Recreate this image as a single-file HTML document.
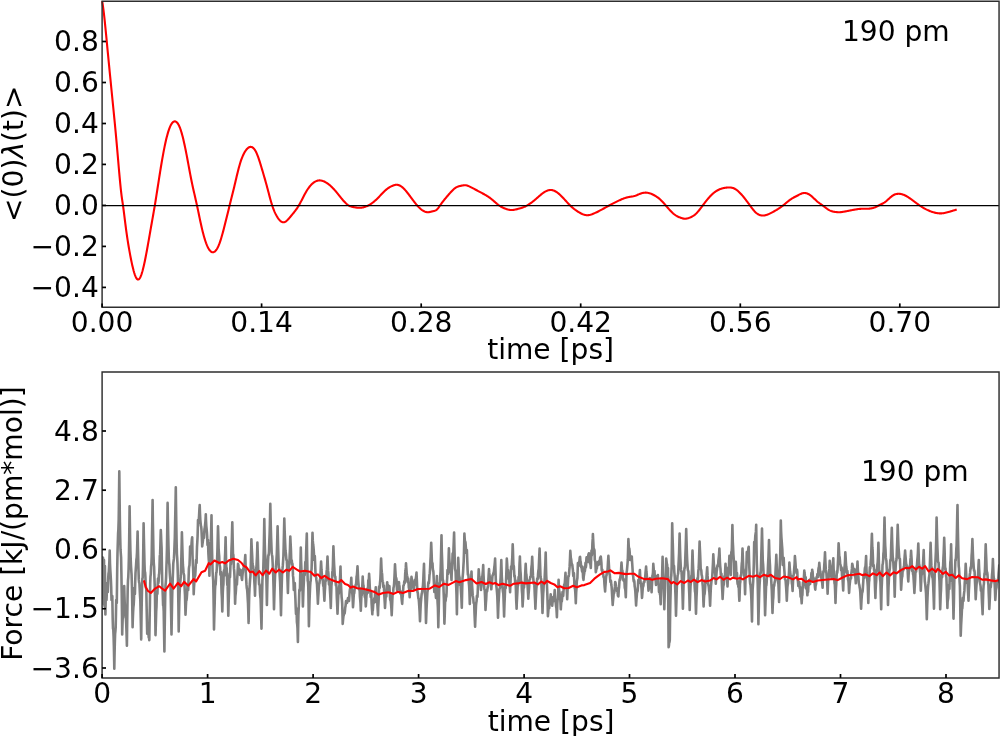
<!DOCTYPE html>
<html lang="en"><head><meta charset="utf-8"><title>190 pm</title>
<style>html,body{margin:0;padding:0;background:#fff;}body{width:1000px;height:736px;overflow:hidden;}svg{display:block;}text{font-family:"DejaVu Sans","Liberation Sans",sans-serif;font-size:28.1px;fill:#000;}.c{text-anchor:middle;}.e{text-anchor:end;}</style></head><body>
<svg width="1000" height="736" viewBox="0 0 1000 736">
<rect width="1000" height="736" fill="#fff"/>
<g>
<path d="M102.20,1.20 L102.70,4.49 L103.20,8.00 L103.70,11.89 L104.20,16.15 L104.70,20.71 L105.20,25.53 L105.70,30.53 L106.20,35.67 L106.70,40.87 L107.20,46.08 L107.70,51.28 L108.20,56.44 L108.70,61.59 L109.20,66.71 L109.70,71.81 L110.20,76.88 L110.70,81.94 L111.20,86.98 L111.70,92.00 L112.20,97.00 L112.70,101.99 L113.20,106.98 L113.70,112.01 L114.20,117.07 L114.70,122.19 L115.20,127.39 L115.70,132.68 L116.20,138.08 L116.70,143.61 L117.20,149.29 L117.70,155.09 L118.20,160.93 L118.70,166.74 L119.20,172.44 L119.70,177.95 L120.20,183.20 L120.70,188.09 L121.20,192.56 L121.70,196.52 L122.20,200.06 L122.70,203.44 L123.20,206.93 L123.70,210.65 L124.20,214.56 L124.70,218.55 L125.20,222.56 L125.70,226.50 L126.20,230.30 L126.70,233.91 L127.20,237.34 L127.70,240.62 L128.20,243.75 L128.70,246.75 L129.20,249.63 L129.70,252.41 L130.20,255.11 L130.70,257.71 L131.20,260.22 L131.70,262.62 L132.20,264.91 L132.70,267.07 L133.20,269.10 L133.70,270.99 L134.20,272.72 L134.70,274.29 L135.20,275.68 L135.70,276.88 L136.20,277.87 L136.70,278.65 L137.20,279.19 L137.70,279.50 L138.20,279.56 L138.70,279.37 L139.20,278.95 L139.70,278.30 L140.20,277.44 L140.70,276.38 L141.20,275.12 L141.70,273.67 L142.20,272.04 L142.70,270.26 L143.20,268.31 L143.70,266.23 L144.20,264.01 L144.70,261.68 L145.20,259.24 L145.70,256.72 L146.20,254.11 L146.70,251.44 L147.20,248.72 L147.70,245.95 L148.20,243.14 L148.70,240.31 L149.20,237.46 L149.70,234.60 L150.20,231.74 L150.70,228.88 L151.20,226.03 L151.70,223.21 L152.20,220.40 L152.70,217.60 L153.20,214.78 L153.70,211.93 L154.20,209.04 L154.70,206.10 L155.20,203.08 L155.70,200.00 L156.20,196.87 L156.70,193.69 L157.20,190.49 L157.70,187.27 L158.20,184.05 L158.70,180.83 L159.20,177.64 L159.70,174.47 L160.20,171.35 L160.70,168.27 L161.20,165.25 L161.70,162.28 L162.20,159.39 L162.70,156.56 L163.20,153.82 L163.70,151.16 L164.20,148.59 L164.70,146.13 L165.20,143.76 L165.70,141.51 L166.20,139.36 L166.70,137.33 L167.20,135.41 L167.70,133.60 L168.20,131.92 L168.70,130.35 L169.20,128.91 L169.70,127.60 L170.20,126.41 L170.70,125.36 L171.20,124.43 L171.70,123.62 L172.20,122.94 L172.70,122.38 L173.20,121.95 L173.70,121.63 L174.20,121.44 L174.70,121.36 L175.20,121.40 L175.70,121.56 L176.20,121.83 L176.70,122.23 L177.20,122.75 L177.70,123.39 L178.20,124.15 L178.70,125.04 L179.20,126.06 L179.70,127.21 L180.20,128.49 L180.70,129.90 L181.20,131.45 L181.70,133.12 L182.20,134.92 L182.70,136.84 L183.20,138.86 L183.70,140.98 L184.20,143.20 L184.70,145.50 L185.20,147.88 L185.70,150.33 L186.20,152.85 L186.70,155.42 L187.20,158.04 L187.70,160.70 L188.20,163.38 L188.70,166.07 L189.20,168.76 L189.70,171.44 L190.20,174.08 L190.70,176.68 L191.20,179.23 L191.70,181.71 L192.20,184.12 L192.70,186.45 L193.20,188.72 L193.70,190.95 L194.20,193.14 L194.70,195.32 L195.20,197.50 L195.70,199.68 L196.20,201.89 L196.70,204.13 L197.20,206.42 L197.70,208.77 L198.20,211.15 L198.70,213.55 L199.20,215.96 L199.70,218.35 L200.20,220.72 L200.70,223.04 L201.20,225.31 L201.70,227.51 L202.20,229.62 L202.70,231.65 L203.20,233.60 L203.70,235.45 L204.20,237.22 L204.70,238.90 L205.20,240.48 L205.70,241.97 L206.20,243.36 L206.70,244.65 L207.20,245.84 L207.70,246.93 L208.20,247.91 L208.70,248.80 L209.20,249.58 L209.70,250.26 L210.20,250.85 L210.70,251.33 L211.20,251.71 L211.70,251.99 L212.20,252.17 L212.70,252.25 L213.20,252.24 L213.70,252.12 L214.20,251.90 L214.70,251.58 L215.20,251.16 L215.70,250.64 L216.20,250.02 L216.70,249.30 L217.20,248.47 L217.70,247.55 L218.20,246.52 L218.70,245.39 L219.20,244.16 L219.70,242.82 L220.20,241.39 L220.70,239.86 L221.20,238.25 L221.70,236.56 L222.20,234.80 L222.70,232.99 L223.20,231.12 L223.70,229.21 L224.20,227.27 L224.70,225.30 L225.20,223.31 L225.70,221.31 L226.20,219.29 L226.70,217.27 L227.20,215.24 L227.70,213.21 L228.20,211.18 L228.70,209.14 L229.20,207.12 L229.70,205.10 L230.20,203.08 L230.70,201.07 L231.20,199.07 L231.70,197.06 L232.20,195.05 L232.70,193.03 L233.20,190.99 L233.70,188.95 L234.20,186.88 L234.70,184.80 L235.20,182.69 L235.70,180.58 L236.20,178.46 L236.70,176.36 L237.20,174.28 L237.70,172.23 L238.20,170.24 L238.70,168.31 L239.20,166.45 L239.70,164.68 L240.20,163.01 L240.70,161.44 L241.20,159.96 L241.70,158.58 L242.20,157.29 L242.70,156.09 L243.20,154.97 L243.70,153.94 L244.20,152.98 L244.70,152.10 L245.20,151.28 L245.70,150.54 L246.20,149.86 L246.70,149.25 L247.20,148.70 L247.70,148.22 L248.20,147.82 L248.70,147.48 L249.20,147.22 L249.70,147.03 L250.20,146.92 L250.70,146.88 L251.20,146.93 L251.70,147.05 L252.20,147.27 L252.70,147.56 L253.20,147.95 L253.70,148.43 L254.20,149.00 L254.70,149.68 L255.20,150.45 L255.70,151.32 L256.20,152.30 L256.70,153.38 L257.20,154.57 L257.70,155.84 L258.20,157.20 L258.70,158.62 L259.20,160.11 L259.70,161.66 L260.20,163.24 L260.70,164.87 L261.20,166.52 L261.70,168.19 L262.20,169.87 L262.70,171.56 L263.20,173.25 L263.70,174.96 L264.20,176.67 L264.70,178.41 L265.20,180.16 L265.70,181.93 L266.20,183.73 L266.70,185.55 L267.20,187.40 L267.70,189.28 L268.20,191.18 L268.70,193.09 L269.20,194.98 L269.70,196.86 L270.20,198.71 L270.70,200.51 L271.20,202.25 L271.70,203.92 L272.20,205.50 L272.70,206.99 L273.20,208.38 L273.70,209.69 L274.20,210.92 L274.70,212.07 L275.20,213.14 L275.70,214.15 L276.20,215.10 L276.70,215.99 L277.20,216.83 L277.70,217.62 L278.20,218.35 L278.70,219.04 L279.20,219.66 L279.70,220.23 L280.20,220.73 L280.70,221.17 L281.20,221.54 L281.70,221.84 L282.20,222.07 L282.70,222.23 L283.20,222.31 L283.70,222.31 L284.20,222.23 L284.70,222.07 L285.20,221.84 L285.70,221.55 L286.20,221.20 L286.70,220.79 L287.20,220.34 L287.70,219.84 L288.20,219.31 L288.70,218.76 L289.20,218.18 L289.70,217.58 L290.20,216.98 L290.70,216.37 L291.20,215.76 L291.70,215.15 L292.20,214.55 L292.70,213.95 L293.20,213.34 L293.70,212.73 L294.20,212.10 L294.70,211.47 L295.20,210.82 L295.70,210.16 L296.20,209.47 L296.70,208.77 L297.20,208.04 L297.70,207.28 L298.20,206.49 L298.70,205.67 L299.20,204.81 L299.70,203.92 L300.20,203.01 L300.70,202.07 L301.20,201.12 L301.70,200.15 L302.20,199.17 L302.70,198.19 L303.20,197.22 L303.70,196.25 L304.20,195.29 L304.70,194.34 L305.20,193.42 L305.70,192.52 L306.20,191.66 L306.70,190.82 L307.20,190.02 L307.70,189.26 L308.20,188.52 L308.70,187.82 L309.20,187.15 L309.70,186.52 L310.20,185.91 L310.70,185.34 L311.20,184.80 L311.70,184.29 L312.20,183.81 L312.70,183.37 L313.20,182.95 L313.70,182.57 L314.20,182.22 L314.70,181.89 L315.20,181.60 L315.70,181.35 L316.20,181.12 L316.70,180.92 L317.20,180.76 L317.70,180.62 L318.20,180.52 L318.70,180.45 L319.20,180.41 L319.70,180.40 L320.20,180.42 L320.70,180.47 L321.20,180.55 L321.70,180.66 L322.20,180.79 L322.70,180.94 L323.20,181.12 L323.70,181.32 L324.20,181.55 L324.70,181.79 L325.20,182.05 L325.70,182.33 L326.20,182.62 L326.70,182.93 L327.20,183.25 L327.70,183.59 L328.20,183.95 L328.70,184.32 L329.20,184.71 L329.70,185.11 L330.20,185.53 L330.70,185.97 L331.20,186.43 L331.70,186.90 L332.20,187.38 L332.70,187.89 L333.20,188.41 L333.70,188.95 L334.20,189.50 L334.70,190.07 L335.20,190.65 L335.70,191.24 L336.20,191.85 L336.70,192.45 L337.20,193.07 L337.70,193.69 L338.20,194.32 L338.70,194.94 L339.20,195.57 L339.70,196.20 L340.20,196.83 L340.70,197.45 L341.20,198.07 L341.70,198.68 L342.20,199.28 L342.70,199.87 L343.20,200.45 L343.70,201.01 L344.20,201.56 L344.70,202.09 L345.20,202.60 L345.70,203.09 L346.20,203.55 L346.70,203.99 L347.20,204.40 L347.70,204.78 L348.20,205.13 L348.70,205.44 L349.20,205.72 L349.70,205.97 L350.20,206.19 L350.70,206.38 L351.20,206.55 L351.70,206.69 L352.20,206.82 L352.70,206.94 L353.20,207.05 L353.70,207.14 L354.20,207.24 L354.70,207.33 L355.20,207.41 L355.70,207.49 L356.20,207.57 L356.70,207.63 L357.20,207.69 L357.70,207.74 L358.20,207.78 L358.70,207.80 L359.20,207.81 L359.70,207.81 L360.20,207.79 L360.70,207.76 L361.20,207.70 L361.70,207.64 L362.20,207.56 L362.70,207.46 L363.20,207.35 L363.70,207.23 L364.20,207.09 L364.70,206.94 L365.20,206.77 L365.70,206.60 L366.20,206.40 L366.70,206.20 L367.20,205.98 L367.70,205.75 L368.20,205.50 L368.70,205.24 L369.20,204.96 L369.70,204.67 L370.20,204.36 L370.70,204.04 L371.20,203.71 L371.70,203.36 L372.20,203.00 L372.70,202.63 L373.20,202.24 L373.70,201.84 L374.20,201.43 L374.70,201.01 L375.20,200.57 L375.70,200.12 L376.20,199.66 L376.70,199.18 L377.20,198.70 L377.70,198.20 L378.20,197.70 L378.70,197.18 L379.20,196.66 L379.70,196.14 L380.20,195.61 L380.70,195.08 L381.20,194.55 L381.70,194.02 L382.20,193.50 L382.70,192.98 L383.20,192.47 L383.70,191.97 L384.20,191.48 L384.70,191.00 L385.20,190.53 L385.70,190.08 L386.20,189.65 L386.70,189.24 L387.20,188.85 L387.70,188.47 L388.20,188.12 L388.70,187.79 L389.20,187.47 L389.70,187.18 L390.20,186.90 L390.70,186.63 L391.20,186.38 L391.70,186.14 L392.20,185.91 L392.70,185.70 L393.20,185.50 L393.70,185.32 L394.20,185.16 L394.70,185.02 L395.20,184.91 L395.70,184.83 L396.20,184.78 L396.70,184.77 L397.20,184.80 L397.70,184.87 L398.20,184.98 L398.70,185.12 L399.20,185.31 L399.70,185.53 L400.20,185.79 L400.70,186.08 L401.20,186.41 L401.70,186.77 L402.20,187.16 L402.70,187.58 L403.20,188.04 L403.70,188.51 L404.20,189.02 L404.70,189.55 L405.20,190.10 L405.70,190.67 L406.20,191.26 L406.70,191.86 L407.20,192.48 L407.70,193.11 L408.20,193.76 L408.70,194.41 L409.20,195.08 L409.70,195.75 L410.20,196.42 L410.70,197.10 L411.20,197.78 L411.70,198.46 L412.20,199.13 L412.70,199.81 L413.20,200.48 L413.70,201.15 L414.20,201.80 L414.70,202.45 L415.20,203.09 L415.70,203.71 L416.20,204.33 L416.70,204.92 L417.20,205.50 L417.70,206.06 L418.20,206.60 L418.70,207.12 L419.20,207.62 L419.70,208.10 L420.20,208.56 L420.70,208.99 L421.20,209.40 L421.70,209.78 L422.20,210.14 L422.70,210.47 L423.20,210.78 L423.70,211.06 L424.20,211.31 L424.70,211.53 L425.20,211.72 L425.70,211.88 L426.20,212.01 L426.70,212.10 L427.20,212.17 L427.70,212.20 L428.20,212.19 L428.70,212.16 L429.20,212.09 L429.70,212.01 L430.20,211.90 L430.70,211.78 L431.20,211.66 L431.70,211.52 L432.20,211.39 L432.70,211.27 L433.20,211.16 L433.70,211.05 L434.20,210.93 L434.70,210.79 L435.20,210.62 L435.70,210.39 L436.20,210.08 L436.70,209.70 L437.20,209.22 L437.70,208.66 L438.20,208.03 L438.70,207.36 L439.20,206.65 L439.70,205.93 L440.20,205.21 L440.70,204.51 L441.20,203.82 L441.70,203.14 L442.20,202.47 L442.70,201.82 L443.20,201.17 L443.70,200.53 L444.20,199.90 L444.70,199.28 L445.20,198.67 L445.70,198.07 L446.20,197.47 L446.70,196.87 L447.20,196.29 L447.70,195.70 L448.20,195.12 L448.70,194.55 L449.20,193.97 L449.70,193.40 L450.20,192.83 L450.70,192.27 L451.20,191.73 L451.70,191.19 L452.20,190.67 L452.70,190.17 L453.20,189.69 L453.70,189.23 L454.20,188.80 L454.70,188.39 L455.20,188.02 L455.70,187.67 L456.20,187.37 L456.70,187.10 L457.20,186.86 L457.70,186.66 L458.20,186.49 L458.70,186.34 L459.20,186.21 L459.70,186.09 L460.20,185.97 L460.70,185.87 L461.20,185.76 L461.70,185.64 L462.20,185.53 L462.70,185.43 L463.20,185.34 L463.70,185.27 L464.20,185.22 L464.70,185.19 L465.20,185.20 L465.70,185.24 L466.20,185.32 L466.70,185.43 L467.20,185.57 L467.70,185.73 L468.20,185.92 L468.70,186.12 L469.20,186.34 L469.70,186.58 L470.20,186.83 L470.70,187.08 L471.20,187.34 L471.70,187.61 L472.20,187.87 L472.70,188.14 L473.20,188.40 L473.70,188.67 L474.20,188.93 L474.70,189.20 L475.20,189.47 L475.70,189.74 L476.20,190.01 L476.70,190.27 L477.20,190.54 L477.70,190.81 L478.20,191.08 L478.70,191.34 L479.20,191.61 L479.70,191.88 L480.20,192.14 L480.70,192.41 L481.20,192.67 L481.70,192.93 L482.20,193.20 L482.70,193.47 L483.20,193.73 L483.70,194.01 L484.20,194.28 L484.70,194.56 L485.20,194.84 L485.70,195.13 L486.20,195.43 L486.70,195.73 L487.20,196.04 L487.70,196.36 L488.20,196.68 L488.70,197.02 L489.20,197.36 L489.70,197.72 L490.20,198.09 L490.70,198.47 L491.20,198.86 L491.70,199.26 L492.20,199.68 L492.70,200.10 L493.20,200.53 L493.70,200.97 L494.20,201.40 L494.70,201.84 L495.20,202.28 L495.70,202.71 L496.20,203.14 L496.70,203.56 L497.20,203.98 L497.70,204.38 L498.20,204.77 L498.70,205.14 L499.20,205.50 L499.70,205.84 L500.20,206.16 L500.70,206.47 L501.20,206.76 L501.70,207.03 L502.20,207.29 L502.70,207.54 L503.20,207.78 L503.70,208.00 L504.20,208.21 L504.70,208.41 L505.20,208.61 L505.70,208.79 L506.20,208.97 L506.70,209.14 L507.20,209.30 L507.70,209.45 L508.20,209.59 L508.70,209.71 L509.20,209.82 L509.70,209.90 L510.20,209.97 L510.70,210.02 L511.20,210.04 L511.70,210.04 L512.20,210.02 L512.70,209.98 L513.20,209.93 L513.70,209.86 L514.20,209.78 L514.70,209.69 L515.20,209.59 L515.70,209.48 L516.20,209.36 L516.70,209.24 L517.20,209.11 L517.70,208.98 L518.20,208.85 L518.70,208.72 L519.20,208.58 L519.70,208.45 L520.20,208.31 L520.70,208.16 L521.20,208.01 L521.70,207.85 L522.20,207.69 L522.70,207.51 L523.20,207.32 L523.70,207.13 L524.20,206.91 L524.70,206.69 L525.20,206.45 L525.70,206.20 L526.20,205.94 L526.70,205.67 L527.20,205.39 L527.70,205.09 L528.20,204.79 L528.70,204.48 L529.20,204.16 L529.70,203.83 L530.20,203.49 L530.70,203.14 L531.20,202.78 L531.70,202.41 L532.20,202.04 L532.70,201.65 L533.20,201.26 L533.70,200.86 L534.20,200.45 L534.70,200.03 L535.20,199.61 L535.70,199.18 L536.20,198.74 L536.70,198.31 L537.20,197.87 L537.70,197.42 L538.20,196.98 L538.70,196.55 L539.20,196.11 L539.70,195.68 L540.20,195.26 L540.70,194.84 L541.20,194.43 L541.70,194.03 L542.20,193.64 L542.70,193.27 L543.20,192.91 L543.70,192.56 L544.20,192.23 L544.70,191.92 L545.20,191.63 L545.70,191.36 L546.20,191.11 L546.70,190.88 L547.20,190.67 L547.70,190.49 L548.20,190.34 L548.70,190.21 L549.20,190.11 L549.70,190.04 L550.20,190.00 L550.70,189.99 L551.20,190.01 L551.70,190.07 L552.20,190.15 L552.70,190.26 L553.20,190.41 L553.70,190.57 L554.20,190.77 L554.70,190.99 L555.20,191.24 L555.70,191.52 L556.20,191.81 L556.70,192.14 L557.20,192.48 L557.70,192.85 L558.20,193.24 L558.70,193.65 L559.20,194.08 L559.70,194.53 L560.20,194.99 L560.70,195.47 L561.20,195.96 L561.70,196.46 L562.20,196.98 L562.70,197.50 L563.20,198.03 L563.70,198.57 L564.20,199.11 L564.70,199.65 L565.20,200.20 L565.70,200.75 L566.20,201.30 L566.70,201.85 L567.20,202.39 L567.70,202.93 L568.20,203.46 L568.70,203.98 L569.20,204.50 L569.70,205.01 L570.20,205.50 L570.70,205.98 L571.20,206.45 L571.70,206.91 L572.20,207.35 L572.70,207.78 L573.20,208.20 L573.70,208.61 L574.20,209.01 L574.70,209.39 L575.20,209.77 L575.70,210.13 L576.20,210.49 L576.70,210.83 L577.20,211.17 L577.70,211.50 L578.20,211.81 L578.70,212.12 L579.20,212.42 L579.70,212.71 L580.20,212.99 L580.70,213.26 L581.20,213.51 L581.70,213.75 L582.20,213.98 L582.70,214.19 L583.20,214.38 L583.70,214.56 L584.20,214.71 L584.70,214.85 L585.20,214.96 L585.70,215.06 L586.20,215.13 L586.70,215.18 L587.20,215.20 L587.70,215.20 L588.20,215.17 L588.70,215.11 L589.20,215.04 L589.70,214.94 L590.20,214.83 L590.70,214.69 L591.20,214.54 L591.70,214.37 L592.20,214.19 L592.70,214.00 L593.20,213.80 L593.70,213.59 L594.20,213.37 L594.70,213.14 L595.20,212.91 L595.70,212.67 L596.20,212.43 L596.70,212.19 L597.20,211.94 L597.70,211.69 L598.20,211.44 L598.70,211.19 L599.20,210.93 L599.70,210.67 L600.20,210.41 L600.70,210.14 L601.20,209.87 L601.70,209.61 L602.20,209.34 L602.70,209.06 L603.20,208.79 L603.70,208.52 L604.20,208.25 L604.70,207.97 L605.20,207.70 L605.70,207.42 L606.20,207.14 L606.70,206.87 L607.20,206.59 L607.70,206.32 L608.20,206.05 L608.70,205.77 L609.20,205.50 L609.70,205.23 L610.20,204.96 L610.70,204.69 L611.20,204.42 L611.70,204.16 L612.20,203.89 L612.70,203.63 L613.20,203.37 L613.70,203.11 L614.20,202.86 L614.70,202.60 L615.20,202.35 L615.70,202.10 L616.20,201.85 L616.70,201.60 L617.20,201.36 L617.70,201.12 L618.20,200.88 L618.70,200.64 L619.20,200.41 L619.70,200.18 L620.20,199.95 L620.70,199.72 L621.20,199.50 L621.70,199.29 L622.20,199.08 L622.70,198.88 L623.20,198.68 L623.70,198.49 L624.20,198.30 L624.70,198.13 L625.20,197.96 L625.70,197.80 L626.20,197.65 L626.70,197.51 L627.20,197.38 L627.70,197.27 L628.20,197.16 L628.70,197.06 L629.20,196.97 L629.70,196.89 L630.20,196.81 L630.70,196.74 L631.20,196.66 L631.70,196.58 L632.20,196.50 L632.70,196.41 L633.20,196.32 L633.70,196.21 L634.20,196.09 L634.70,195.95 L635.20,195.80 L635.70,195.63 L636.20,195.44 L636.70,195.24 L637.20,195.02 L637.70,194.80 L638.20,194.57 L638.70,194.35 L639.20,194.13 L639.70,193.92 L640.20,193.72 L640.70,193.54 L641.20,193.38 L641.70,193.23 L642.20,193.09 L642.70,192.98 L643.20,192.88 L643.70,192.80 L644.20,192.73 L644.70,192.69 L645.20,192.66 L645.70,192.66 L646.20,192.67 L646.70,192.70 L647.20,192.75 L647.70,192.82 L648.20,192.91 L648.70,193.02 L649.20,193.15 L649.70,193.29 L650.20,193.45 L650.70,193.63 L651.20,193.82 L651.70,194.02 L652.20,194.24 L652.70,194.47 L653.20,194.72 L653.70,194.98 L654.20,195.25 L654.70,195.53 L655.20,195.82 L655.70,196.12 L656.20,196.43 L656.70,196.76 L657.20,197.09 L657.70,197.45 L658.20,197.81 L658.70,198.20 L659.20,198.60 L659.70,199.02 L660.20,199.46 L660.70,199.91 L661.20,200.39 L661.70,200.90 L662.20,201.41 L662.70,201.95 L663.20,202.50 L663.70,203.06 L664.20,203.63 L664.70,204.21 L665.20,204.80 L665.70,205.38 L666.20,205.97 L666.70,206.56 L667.20,207.14 L667.70,207.72 L668.20,208.29 L668.70,208.86 L669.20,209.42 L669.70,209.97 L670.20,210.51 L670.70,211.04 L671.20,211.55 L671.70,212.05 L672.20,212.53 L672.70,213.00 L673.20,213.44 L673.70,213.87 L674.20,214.27 L674.70,214.65 L675.20,215.00 L675.70,215.34 L676.20,215.65 L676.70,215.94 L677.20,216.22 L677.70,216.48 L678.20,216.72 L678.70,216.95 L679.20,217.17 L679.70,217.38 L680.20,217.58 L680.70,217.77 L681.20,217.95 L681.70,218.11 L682.20,218.26 L682.70,218.40 L683.20,218.51 L683.70,218.60 L684.20,218.66 L684.70,218.69 L685.20,218.70 L685.70,218.67 L686.20,218.62 L686.70,218.54 L687.20,218.44 L687.70,218.31 L688.20,218.16 L688.70,218.00 L689.20,217.82 L689.70,217.62 L690.20,217.42 L690.70,217.20 L691.20,216.97 L691.70,216.72 L692.20,216.46 L692.70,216.17 L693.20,215.87 L693.70,215.55 L694.20,215.20 L694.70,214.82 L695.20,214.41 L695.70,213.98 L696.20,213.51 L696.70,213.01 L697.20,212.48 L697.70,211.92 L698.20,211.34 L698.70,210.74 L699.20,210.12 L699.70,209.49 L700.20,208.84 L700.70,208.18 L701.20,207.51 L701.70,206.84 L702.20,206.17 L702.70,205.50 L703.20,204.83 L703.70,204.17 L704.20,203.51 L704.70,202.86 L705.20,202.21 L705.70,201.58 L706.20,200.95 L706.70,200.33 L707.20,199.71 L707.70,199.11 L708.20,198.52 L708.70,197.94 L709.20,197.38 L709.70,196.82 L710.20,196.28 L710.70,195.76 L711.20,195.25 L711.70,194.75 L712.20,194.27 L712.70,193.81 L713.20,193.37 L713.70,192.95 L714.20,192.54 L714.70,192.15 L715.20,191.79 L715.70,191.44 L716.20,191.11 L716.70,190.80 L717.20,190.50 L717.70,190.23 L718.20,189.97 L718.70,189.72 L719.20,189.49 L719.70,189.28 L720.20,189.08 L720.70,188.89 L721.20,188.72 L721.70,188.56 L722.20,188.41 L722.70,188.28 L723.20,188.15 L723.70,188.04 L724.20,187.94 L724.70,187.85 L725.20,187.77 L725.70,187.70 L726.20,187.64 L726.70,187.59 L727.20,187.55 L727.70,187.52 L728.20,187.50 L728.70,187.49 L729.20,187.48 L729.70,187.49 L730.20,187.52 L730.70,187.56 L731.20,187.62 L731.70,187.70 L732.20,187.80 L732.70,187.93 L733.20,188.09 L733.70,188.28 L734.20,188.50 L734.70,188.74 L735.20,189.02 L735.70,189.33 L736.20,189.66 L736.70,190.01 L737.20,190.39 L737.70,190.80 L738.20,191.23 L738.70,191.68 L739.20,192.15 L739.70,192.64 L740.20,193.15 L740.70,193.67 L741.20,194.22 L741.70,194.77 L742.20,195.35 L742.70,195.94 L743.20,196.54 L743.70,197.15 L744.20,197.77 L744.70,198.41 L745.20,199.05 L745.70,199.70 L746.20,200.36 L746.70,201.03 L747.20,201.69 L747.70,202.37 L748.20,203.05 L748.70,203.73 L749.20,204.41 L749.70,205.09 L750.20,205.77 L750.70,206.45 L751.20,207.13 L751.70,207.79 L752.20,208.45 L752.70,209.08 L753.20,209.71 L753.70,210.31 L754.20,210.88 L754.70,211.43 L755.20,211.94 L755.70,212.43 L756.20,212.87 L756.70,213.28 L757.20,213.65 L757.70,213.98 L758.20,214.28 L758.70,214.54 L759.20,214.77 L759.70,214.97 L760.20,215.13 L760.70,215.27 L761.20,215.37 L761.70,215.45 L762.20,215.50 L762.70,215.52 L763.20,215.51 L763.70,215.49 L764.20,215.43 L764.70,215.36 L765.20,215.26 L765.70,215.15 L766.20,215.01 L766.70,214.86 L767.20,214.69 L767.70,214.50 L768.20,214.31 L768.70,214.09 L769.20,213.87 L769.70,213.64 L770.20,213.40 L770.70,213.15 L771.20,212.89 L771.70,212.63 L772.20,212.36 L772.70,212.09 L773.20,211.82 L773.70,211.54 L774.20,211.27 L774.70,210.98 L775.20,210.70 L775.70,210.41 L776.20,210.11 L776.70,209.82 L777.20,209.51 L777.70,209.20 L778.20,208.89 L778.70,208.56 L779.20,208.24 L779.70,207.90 L780.20,207.56 L780.70,207.21 L781.20,206.85 L781.70,206.49 L782.20,206.12 L782.70,205.73 L783.20,205.34 L783.70,204.94 L784.20,204.54 L784.70,204.12 L785.20,203.71 L785.70,203.29 L786.20,202.87 L786.70,202.46 L787.20,202.04 L787.70,201.63 L788.20,201.23 L788.70,200.83 L789.20,200.45 L789.70,200.07 L790.20,199.71 L790.70,199.36 L791.20,199.03 L791.70,198.71 L792.20,198.40 L792.70,198.11 L793.20,197.82 L793.70,197.54 L794.20,197.27 L794.70,197.00 L795.20,196.74 L795.70,196.48 L796.20,196.23 L796.70,195.97 L797.20,195.71 L797.70,195.46 L798.20,195.20 L798.70,194.93 L799.20,194.67 L799.70,194.41 L800.20,194.17 L800.70,193.93 L801.20,193.72 L801.70,193.53 L802.20,193.36 L802.70,193.22 L803.20,193.12 L803.70,193.05 L804.20,193.02 L804.70,193.02 L805.20,193.05 L805.70,193.12 L806.20,193.22 L806.70,193.35 L807.20,193.51 L807.70,193.71 L808.20,193.93 L808.70,194.19 L809.20,194.48 L809.70,194.80 L810.20,195.14 L810.70,195.52 L811.20,195.92 L811.70,196.34 L812.20,196.78 L812.70,197.23 L813.20,197.70 L813.70,198.17 L814.20,198.65 L814.70,199.13 L815.20,199.61 L815.70,200.09 L816.20,200.55 L816.70,201.01 L817.20,201.45 L817.70,201.87 L818.20,202.27 L818.70,202.65 L819.20,203.02 L819.70,203.39 L820.20,203.74 L820.70,204.09 L821.20,204.44 L821.70,204.79 L822.20,205.14 L822.70,205.50 L823.20,205.87 L823.70,206.25 L824.20,206.63 L824.70,207.01 L825.20,207.40 L825.70,207.78 L826.20,208.16 L826.70,208.52 L827.20,208.88 L827.70,209.22 L828.20,209.55 L828.70,209.85 L829.20,210.14 L829.70,210.40 L830.20,210.64 L830.70,210.85 L831.20,211.04 L831.70,211.21 L832.20,211.36 L832.70,211.50 L833.20,211.62 L833.70,211.72 L834.20,211.81 L834.70,211.89 L835.20,211.96 L835.70,212.02 L836.20,212.08 L836.70,212.13 L837.20,212.17 L837.70,212.20 L838.20,212.22 L838.70,212.23 L839.20,212.23 L839.70,212.21 L840.20,212.19 L840.70,212.15 L841.20,212.10 L841.70,212.05 L842.20,211.98 L842.70,211.91 L843.20,211.83 L843.70,211.74 L844.20,211.65 L844.70,211.56 L845.20,211.46 L845.70,211.36 L846.20,211.27 L846.70,211.17 L847.20,211.07 L847.70,210.96 L848.20,210.86 L848.70,210.76 L849.20,210.66 L849.70,210.56 L850.20,210.46 L850.70,210.35 L851.20,210.25 L851.70,210.16 L852.20,210.06 L852.70,209.96 L853.20,209.87 L853.70,209.77 L854.20,209.68 L854.70,209.60 L855.20,209.51 L855.70,209.43 L856.20,209.35 L856.70,209.27 L857.20,209.20 L857.70,209.14 L858.20,209.07 L858.70,209.02 L859.20,208.96 L859.70,208.92 L860.20,208.88 L860.70,208.84 L861.20,208.81 L861.70,208.79 L862.20,208.78 L862.70,208.77 L863.20,208.76 L863.70,208.76 L864.20,208.76 L864.70,208.76 L865.20,208.76 L865.70,208.76 L866.20,208.76 L866.70,208.75 L867.20,208.74 L867.70,208.73 L868.20,208.71 L868.70,208.68 L869.20,208.64 L869.70,208.60 L870.20,208.54 L870.70,208.47 L871.20,208.39 L871.70,208.30 L872.20,208.19 L872.70,208.07 L873.20,207.93 L873.70,207.78 L874.20,207.61 L874.70,207.42 L875.20,207.22 L875.70,207.00 L876.20,206.76 L876.70,206.52 L877.20,206.26 L877.70,206.01 L878.20,205.75 L878.70,205.50 L879.20,205.25 L879.70,205.01 L880.20,204.77 L880.70,204.52 L881.20,204.28 L881.70,204.03 L882.20,203.77 L882.70,203.50 L883.20,203.22 L883.70,202.92 L884.20,202.61 L884.70,202.28 L885.20,201.92 L885.70,201.55 L886.20,201.15 L886.70,200.73 L887.20,200.29 L887.70,199.84 L888.20,199.39 L888.70,198.93 L889.20,198.47 L889.70,198.01 L890.20,197.57 L890.70,197.13 L891.20,196.71 L891.70,196.32 L892.20,195.94 L892.70,195.59 L893.20,195.28 L893.70,195.00 L894.20,194.75 L894.70,194.53 L895.20,194.34 L895.70,194.18 L896.20,194.06 L896.70,193.95 L897.20,193.88 L897.70,193.83 L898.20,193.80 L898.70,193.79 L899.20,193.81 L899.70,193.85 L900.20,193.90 L900.70,193.98 L901.20,194.08 L901.70,194.19 L902.20,194.33 L902.70,194.48 L903.20,194.65 L903.70,194.84 L904.20,195.04 L904.70,195.26 L905.20,195.50 L905.70,195.75 L906.20,196.01 L906.70,196.29 L907.20,196.58 L907.70,196.88 L908.20,197.19 L908.70,197.51 L909.20,197.85 L909.70,198.19 L910.20,198.53 L910.70,198.89 L911.20,199.25 L911.70,199.61 L912.20,199.98 L912.70,200.35 L913.20,200.72 L913.70,201.10 L914.20,201.47 L914.70,201.85 L915.20,202.23 L915.70,202.60 L916.20,202.98 L916.70,203.35 L917.20,203.72 L917.70,204.09 L918.20,204.45 L918.70,204.80 L919.20,205.16 L919.70,205.50 L920.20,205.84 L920.70,206.17 L921.20,206.49 L921.70,206.81 L922.20,207.12 L922.70,207.43 L923.20,207.72 L923.70,208.02 L924.20,208.30 L924.70,208.58 L925.20,208.85 L925.70,209.11 L926.20,209.37 L926.70,209.61 L927.20,209.86 L927.70,210.09 L928.20,210.32 L928.70,210.54 L929.20,210.76 L929.70,210.97 L930.20,211.17 L930.70,211.36 L931.20,211.55 L931.70,211.72 L932.20,211.89 L932.70,212.06 L933.20,212.21 L933.70,212.36 L934.20,212.50 L934.70,212.63 L935.20,212.75 L935.70,212.86 L936.20,212.96 L936.70,213.06 L937.20,213.14 L937.70,213.22 L938.20,213.28 L938.70,213.33 L939.20,213.37 L939.70,213.39 L940.20,213.40 L940.70,213.40 L941.20,213.38 L941.70,213.35 L942.20,213.31 L942.70,213.26 L943.20,213.19 L943.70,213.12 L944.20,213.03 L944.70,212.93 L945.20,212.83 L945.70,212.72 L946.20,212.60 L946.70,212.48 L947.20,212.35 L947.70,212.22 L948.20,212.08 L948.70,211.94 L949.20,211.80 L949.70,211.66 L950.20,211.51 L950.70,211.37 L951.20,211.22 L951.70,211.07 L952.20,210.91 L952.70,210.76 L953.20,210.60 L953.70,210.45 L954.20,210.29 L954.70,210.13 L955.20,209.98 L955.70,209.82 L956.20,209.66 L956.70,209.50" fill="none" stroke="#ff0000" stroke-width="2.1" stroke-linejoin="round" stroke-linecap="butt"/>
<line x1="102.1" y1="205.6" x2="999.05" y2="205.6" stroke="#000" stroke-width="1.2"/>
<path d="M102.1,1.3 H999.05 M102.1,307.3 H999.05 M102.1,1.3 V307.3 M999.05,1.3 V307.3" fill="none" stroke="#2e2e2e" stroke-width="1.45" stroke-linecap="square"/>
<line x1="102.1" y1="41.5" x2="106.0" y2="41.5" stroke="#000" stroke-width="1.7"/>
<text class="e" x="98.8" y="51.2">0.8</text>
<line x1="102.1" y1="82.5" x2="106.0" y2="82.5" stroke="#000" stroke-width="1.7"/>
<text class="e" x="98.8" y="92.2">0.6</text>
<line x1="102.1" y1="123.5" x2="106.0" y2="123.5" stroke="#000" stroke-width="1.7"/>
<text class="e" x="98.8" y="133.2">0.4</text>
<line x1="102.1" y1="164.4" x2="106.0" y2="164.4" stroke="#000" stroke-width="1.7"/>
<text class="e" x="98.8" y="174.1">0.2</text>
<line x1="102.1" y1="205.4" x2="106.0" y2="205.4" stroke="#000" stroke-width="1.7"/>
<text class="e" x="98.8" y="215.1">0.0</text>
<line x1="102.1" y1="246.4" x2="106.0" y2="246.4" stroke="#000" stroke-width="1.7"/>
<text class="e" x="98.8" y="256.1">−0.2</text>
<line x1="102.1" y1="287.4" x2="106.0" y2="287.4" stroke="#000" stroke-width="1.7"/>
<text class="e" x="98.8" y="297.1">−0.4</text>
<line x1="102.1" y1="307.3" x2="102.1" y2="303.40000000000003" stroke="#000" stroke-width="1.7"/>
<text class="c" x="102.1" y="331.8">0.00</text>
<line x1="261.6" y1="307.3" x2="261.6" y2="303.40000000000003" stroke="#000" stroke-width="1.7"/>
<text class="c" x="261.6" y="331.8">0.14</text>
<line x1="421.2" y1="307.3" x2="421.2" y2="303.40000000000003" stroke="#000" stroke-width="1.7"/>
<text class="c" x="421.2" y="331.8">0.28</text>
<line x1="580.7" y1="307.3" x2="580.7" y2="303.40000000000003" stroke="#000" stroke-width="1.7"/>
<text class="c" x="580.7" y="331.8">0.42</text>
<line x1="740.3" y1="307.3" x2="740.3" y2="303.40000000000003" stroke="#000" stroke-width="1.7"/>
<text class="c" x="740.3" y="331.8">0.56</text>
<line x1="899.8" y1="307.3" x2="899.8" y2="303.40000000000003" stroke="#000" stroke-width="1.7"/>
<text class="c" x="899.8" y="331.8">0.70</text>
<text class="c" x="550.6" y="359.3">time [ps]</text>
<text class="c" transform="translate(23.0,153.7) rotate(-90)">&lt;(0)<tspan font-style="oblique">λ</tspan>(t)&gt;</text>
<text x="841.9" y="41.3">190 pm</text>
</g>
<g>
<clipPath id="c2"><rect x="102.1" y="372.0" width="896.9499999999999" height="305.9"/></clipPath>
<g clip-path="url(#c2)">
<path d="M102.2,556.0 L102.5,580.9 L102.7,598.0 L102.8,588.2 L103.1,558.0 L103.4,585.2 L103.6,604.0 L103.7,592.9 L104.0,560.0 L104.0,560.0 L104.3,587.6 L104.5,606.0 L104.6,595.9 L104.9,566.0 L104.9,566.0 L105.2,594.9 L105.4,614.5 L105.5,609.6 L105.8,595.2 L106.0,585.0 L106.1,587.9 L106.4,596.8 L106.5,600.0 L106.7,595.4 L107.0,588.3 L107.2,583.0 L107.3,584.3 L107.6,588.8 L107.8,592.0 L107.9,588.5 L108.2,578.9 L108.5,573.5 L108.8,572.0 L109.1,566.5 L109.4,560.2 L109.7,550.5 L109.7,550.5 L110.0,563.6 L110.3,569.8 L110.6,574.7 L110.9,580.0 L111.2,587.2 L111.5,600.0 L111.5,600.0 L111.8,598.9 L112.1,596.6 L112.3,596.0 L112.4,601.8 L112.7,619.0 L113.0,628.5 L113.3,629.7 L113.6,636.8 L113.9,647.5 L114.2,662.7 L114.3,668.7 L114.5,657.1 L114.8,643.9 L115.1,634.2 L115.4,631.2 L115.7,627.2 L116.0,612.0 L116.2,600.0 L116.3,600.2 L116.6,602.0 L116.8,603.0 L116.9,594.5 L117.2,570.0 L117.5,553.6 L117.8,543.1 L118.1,533.3 L118.4,529.1 L118.7,519.4 L119.0,497.1 L119.3,471.4 L119.3,471.4 L119.6,499.1 L119.9,521.7 L120.2,537.1 L120.5,549.2 L120.8,553.7 L121.1,557.7 L121.4,573.5 L121.7,592.8 L122.0,615.7 L122.2,634.4 L122.3,630.3 L122.6,620.7 L122.9,613.4 L123.2,609.8 L123.5,607.6 L123.8,599.9 L124.1,589.9 L124.2,586.0 L124.4,593.7 L124.7,602.6 L125.0,607.6 L125.3,614.7 L125.6,617.8 L125.9,617.9 L126.2,623.6 L126.5,632.0 L126.8,642.1 L126.9,645.8 L127.1,629.1 L127.4,607.2 L127.7,589.1 L128.0,580.3 L128.3,576.8 L128.6,568.9 L128.9,556.8 L129.2,538.9 L129.5,514.6 L129.6,506.2 L129.8,519.3 L130.1,537.8 L130.4,551.0 L130.7,559.0 L131.0,566.1 L131.3,570.7 L131.6,575.2 L131.9,585.8 L132.2,601.4 L132.5,620.6 L132.6,627.2 L132.8,619.8 L133.1,612.3 L133.4,607.0 L133.7,604.6 L134.0,598.9 L134.3,588.0 L134.3,588.0 L134.6,590.8 L134.9,594.0 L134.9,594.0 L135.2,582.5 L135.5,573.1 L135.8,568.9 L136.1,564.8 L136.4,559.8 L136.7,557.6 L137.0,552.7 L137.3,542.8 L137.6,531.5 L137.6,531.5 L137.9,546.3 L138.2,558.3 L138.5,569.9 L138.8,579.4 L139.1,582.4 L139.4,583.1 L139.7,589.0 L140.0,595.2 L140.3,599.8 L140.6,611.8 L140.9,624.9 L141.2,639.4 L141.2,639.4 L141.5,615.8 L141.8,599.3 L142.1,585.5 L142.4,578.4 L142.7,577.9 L143.0,566.7 L143.3,546.3 L143.6,523.3 L143.6,523.3 L143.9,538.6 L144.2,551.0 L144.5,563.9 L144.8,571.7 L145.1,572.3 L145.4,576.8 L145.7,586.0 L146.0,587.7 L146.3,589.2 L146.6,605.6 L146.9,619.7 L147.2,633.6 L147.2,633.6 L147.5,630.9 L147.8,628.9 L147.9,628.0 L148.1,629.3 L148.4,632.5 L148.7,637.5 L149.0,636.8 L149.3,640.1 L149.3,640.1 L149.6,620.5 L149.9,603.8 L150.2,583.6 L150.5,576.5 L150.8,574.1 L151.1,566.5 L151.4,563.7 L151.7,555.7 L152.0,535.8 L152.3,519.8 L152.6,500.0 L152.6,500.0 L152.9,523.3 L153.2,538.8 L153.5,555.2 L153.8,563.7 L154.1,566.8 L154.4,577.1 L154.7,585.1 L155.0,596.3 L155.3,619.8 L155.5,635.1 L155.6,632.4 L155.9,621.9 L156.2,611.5 L156.5,606.4 L156.8,595.1 L157.1,592.6 L157.4,594.0 L157.7,585.0 L158.0,578.6 L158.3,583.2 L158.6,581.4 L158.9,575.1 L159.2,573.5 L159.5,566.8 L159.8,556.1 L160.1,554.4 L160.4,544.6 L160.7,532.8 L160.8,530.0 L161.0,534.1 L161.3,542.1 L161.6,548.0 L161.6,548.0 L161.9,566.1 L162.2,581.7 L162.5,588.3 L162.8,596.0 L163.1,605.2 L163.4,605.6 L163.7,611.2 L164.0,628.7 L164.3,645.7 L164.4,651.5 L164.6,636.1 L164.9,615.5 L165.2,597.8 L165.5,585.9 L165.8,582.3 L166.1,577.2 L166.4,567.5 L166.7,559.1 L167.0,546.8 L167.3,525.6 L167.6,502.9 L167.6,502.9 L167.9,519.6 L168.2,534.6 L168.5,546.8 L168.8,557.3 L169.1,562.6 L169.4,564.8 L169.7,571.8 L170.0,576.2 L170.3,579.6 L170.6,588.9 L170.9,603.7 L171.2,618.0 L171.5,634.4 L171.5,634.4 L171.8,617.9 L172.1,601.2 L172.4,587.7 L172.7,579.7 L173.0,571.4 L173.3,563.4 L173.6,560.9 L173.9,558.9 L174.2,553.6 L174.5,545.9 L174.8,537.8 L175.1,523.4 L175.4,509.1 L175.7,493.0 L175.8,487.2 L176.0,503.6 L176.3,524.2 L176.6,541.8 L176.9,554.0 L177.2,558.2 L177.5,564.1 L177.8,573.7 L178.1,586.2 L178.4,606.8 L178.7,631.5 L178.7,631.5 L179.0,616.6 L179.3,602.1 L179.6,593.2 L179.9,587.5 L180.2,582.6 L180.5,580.1 L180.8,575.7 L181.1,566.4 L181.4,556.1 L181.7,542.9 L181.9,532.2 L182.0,535.9 L182.3,546.1 L182.6,556.7 L182.9,565.0 L183.2,568.1 L183.5,572.2 L183.8,574.4 L184.1,575.0 L184.4,582.6 L184.7,590.0 L185.0,595.3 L185.3,606.9 L185.5,614.8 L185.6,612.7 L185.9,606.2 L186.2,600.5 L186.5,600.3 L186.8,598.0 L187.1,593.6 L187.4,587.6 L187.5,585.0 L187.7,586.4 L188.0,587.9 L188.2,590.0 L188.3,586.4 L188.6,577.7 L188.9,568.9 L189.2,566.3 L189.5,565.4 L189.8,557.1 L190.1,546.5 L190.1,546.5 L190.4,548.4 L190.7,549.3 L190.8,550.0 L191.0,547.9 L191.3,547.2 L191.6,542.8 L191.9,539.0 L192.2,537.2 L192.2,537.2 L192.5,554.6 L192.8,563.2 L193.1,568.5 L193.4,577.2 L193.7,594.3 L193.7,594.3 L194.0,587.5 L194.3,583.3 L194.6,577.0 L194.9,575.6 L195.2,575.8 L195.5,570.8 L195.8,564.9 L196.0,560.0 L196.1,560.7 L196.4,561.7 L196.6,563.0 L196.7,557.8 L197.0,547.2 L197.3,542.2 L197.6,536.1 L197.9,525.0 L198.0,520.0 L198.2,521.0 L198.5,522.4 L198.6,523.0 L198.8,520.0 L199.1,515.4 L199.4,509.3 L199.7,505.0 L199.7,505.0 L200.0,513.6 L200.3,519.5 L200.6,522.9 L200.9,525.8 L201.2,526.6 L201.5,530.2 L201.8,536.8 L202.1,543.8 L202.2,546.5 L202.4,544.4 L202.7,542.2 L203.0,540.1 L203.3,536.7 L203.5,535.0 L203.6,535.6 L203.9,537.4 L204.0,538.0 L204.2,533.6 L204.5,529.0 L204.8,527.6 L205.1,524.7 L205.4,521.5 L205.7,516.6 L205.8,514.3 L206.0,520.4 L206.3,525.8 L206.6,528.9 L206.9,532.1 L207.2,536.7 L207.5,545.0 L207.5,545.0 L207.8,542.1 L208.0,540.0 L208.1,544.1 L208.4,553.7 L208.7,559.0 L209.0,561.9 L209.3,571.3 L209.4,575.7 L209.6,566.4 L209.9,555.7 L210.2,547.5 L210.5,544.0 L210.8,541.4 L211.1,532.5 L211.4,520.0 L211.5,515.3 L211.7,530.5 L212.0,548.9 L212.3,560.8 L212.6,571.5 L212.9,576.7 L213.2,580.4 L213.5,594.8 L213.8,614.9 L214.0,629.4 L214.1,625.2 L214.4,612.6 L214.7,602.9 L215.0,590.2 L215.3,584.6 L215.6,584.8 L215.9,580.2 L216.2,572.8 L216.5,572.7 L216.8,568.6 L217.1,559.4 L217.4,551.4 L217.7,539.3 L218.0,526.2 L218.0,526.2 L218.3,535.5 L218.6,548.0 L218.9,552.8 L219.2,556.3 L219.5,564.1 L219.8,565.5 L220.1,567.5 L220.4,574.7 L220.7,573.1 L221.0,572.1 L221.3,583.6 L221.6,593.0 L221.9,597.8 L222.2,608.2 L222.3,611.5 L222.5,604.3 L222.8,592.3 L223.1,586.8 L223.4,584.6 L223.7,572.6 L224.0,570.3 L224.3,575.8 L224.6,568.1 L224.9,558.6 L225.2,552.3 L225.5,540.8 L225.6,537.2 L225.8,546.4 L226.1,561.6 L226.4,568.3 L226.7,568.0 L227.0,579.1 L227.3,585.0 L227.6,584.5 L227.9,596.7 L228.2,611.3 L228.3,615.8 L228.5,607.9 L228.8,597.2 L229.1,589.8 L229.4,576.3 L229.7,573.5 L230.0,577.2 L230.3,568.9 L230.6,561.5 L230.9,564.4 L231.2,560.1 L231.5,548.9 L231.8,541.7 L232.1,529.8 L232.3,522.2 L232.4,526.6 L232.7,541.5 L233.0,554.5 L233.3,554.6 L233.6,559.0 L233.9,568.4 L234.2,570.9 L234.5,576.7 L234.8,589.6 L235.1,603.6 L235.1,603.6 L235.4,596.2 L235.7,593.3 L236.0,589.4 L236.3,581.3 L236.6,582.1 L236.9,584.7 L237.2,579.0 L237.5,573.7 L237.8,568.4 L238.0,563.7 L238.1,564.1 L238.4,565.3 L238.7,569.7 L239.0,570.7 L239.3,568.8 L239.6,572.4 L239.9,574.6 L240.0,575.0 L240.2,573.3 L240.5,570.8 L240.6,570.0 L240.8,571.5 L241.1,572.6 L241.4,574.5 L241.7,578.4 L242.0,579.4 L242.1,580.0 L242.3,577.0 L242.6,573.8 L242.9,572.3 L243.2,569.0 L243.5,568.0 L243.8,567.8 L244.1,565.2 L244.4,564.3 L244.7,563.5 L245.0,558.9 L245.3,555.1 L245.3,555.1 L245.6,565.3 L245.9,574.8 L246.2,580.0 L246.5,584.9 L246.8,588.3 L247.1,589.5 L247.4,593.1 L247.7,598.5 L248.0,603.4 L248.3,612.4 L248.6,622.9 L248.6,622.9 L248.9,608.5 L249.2,595.2 L249.5,588.4 L249.8,584.3 L250.1,579.5 L250.4,576.5 L250.7,569.7 L251.0,557.5 L251.3,544.2 L251.4,539.3 L251.6,544.9 L251.9,550.9 L252.2,556.2 L252.5,563.8 L252.8,565.8 L253.1,565.9 L253.4,569.1 L253.7,570.1 L254.0,573.3 L254.3,581.0 L254.6,585.7 L254.9,592.8 L255.0,595.7 L255.2,588.5 L255.5,580.4 L255.8,572.6 L256.1,569.8 L256.4,567.8 L256.7,561.9 L257.0,556.4 L257.3,546.4 L257.4,542.5 L257.6,549.0 L257.9,558.3 L258.2,568.9 L258.5,575.3 L258.8,579.0 L259.1,584.4 L259.4,584.0 L259.7,585.0 L260.0,592.3 L260.3,596.9 L260.6,598.7 L260.9,608.3 L261.2,618.6 L261.5,628.6 L261.5,628.6 L261.8,609.8 L262.1,595.1 L262.4,580.6 L262.7,575.2 L263.0,575.2 L263.3,567.8 L263.6,557.3 L263.9,544.0 L264.2,525.4 L264.3,519.0 L264.5,529.6 L264.8,545.0 L265.1,554.1 L265.4,556.6 L265.7,563.6 L266.0,570.6 L266.3,575.4 L266.6,588.3 L266.9,605.0 L266.9,605.0 L267.2,590.5 L267.5,577.7 L267.8,568.6 L268.1,560.0 L268.4,555.0 L268.7,555.1 L269.0,551.5 L269.3,541.6 L269.6,534.2 L269.9,524.1 L270.2,508.7 L270.3,503.9 L270.5,513.0 L270.8,526.9 L271.1,537.3 L271.4,545.3 L271.7,553.1 L272.0,555.0 L272.3,556.4 L272.6,561.9 L272.9,569.2 L273.2,574.9 L273.5,585.9 L273.8,600.2 L274.0,609.3 L274.1,605.6 L274.4,594.1 L274.7,585.5 L275.0,577.2 L275.3,571.5 L275.6,570.4 L275.9,567.9 L276.2,563.2 L276.5,558.9 L276.8,554.1 L277.1,544.7 L277.4,533.7 L277.6,526.2 L277.7,530.5 L278.0,543.1 L278.3,552.8 L278.6,562.5 L278.9,567.6 L279.2,568.5 L279.5,572.3 L279.8,577.1 L280.1,582.0 L280.4,591.5 L280.7,602.7 L281.0,615.3 L281.0,615.3 L281.3,600.7 L281.6,589.8 L281.9,579.1 L282.2,570.8 L282.5,568.7 L282.8,565.7 L283.1,561.2 L283.4,556.3 L283.7,545.5 L284.0,532.2 L284.3,518.6 L284.3,518.6 L284.6,529.5 L284.9,537.2 L285.2,544.2 L285.5,550.7 L285.8,553.0 L286.1,555.9 L286.4,560.0 L286.7,559.9 L287.0,563.8 L287.3,575.6 L287.6,583.3 L287.9,592.9 L287.9,592.9 L288.2,581.4 L288.5,573.3 L288.8,566.5 L289.1,566.0 L289.4,562.4 L289.7,554.7 L290.0,548.4 L290.3,536.5 L290.3,536.5 L290.6,543.1 L290.9,548.8 L291.2,559.0 L291.5,560.0 L291.8,560.6 L292.1,564.6 L292.4,563.6 L292.7,566.9 L293.0,575.9 L293.3,577.9 L293.6,583.9 L293.8,590.0 L293.9,589.5 L294.2,589.0 L294.5,584.4 L294.8,583.0 L294.8,583.0 L295.1,592.6 L295.4,598.8 L295.7,607.4 L296.0,613.9 L296.3,608.4 L296.6,610.3 L296.9,622.0 L297.2,624.2 L297.5,628.2 L297.8,638.8 L297.9,641.9 L298.1,631.3 L298.4,615.8 L298.7,608.8 L299.0,602.0 L299.3,590.2 L299.6,589.3 L299.9,590.7 L300.2,577.1 L300.5,562.7 L300.8,547.6 L300.8,547.6 L301.1,560.5 L301.4,568.8 L301.7,579.6 L302.0,581.3 L302.3,580.2 L302.6,592.6 L302.9,606.5 L302.9,606.5 L303.2,597.4 L303.5,588.1 L303.8,583.2 L304.1,575.2 L304.4,571.2 L304.7,575.2 L305.0,570.7 L305.3,562.1 L305.6,562.3 L305.9,562.0 L306.2,550.9 L306.5,542.3 L306.8,533.6 L306.8,533.6 L307.1,554.2 L307.4,569.1 L307.7,580.7 L308.0,582.0 L308.3,587.6 L308.6,605.7 L308.9,626.2 L308.9,626.2 L309.2,612.9 L309.5,601.1 L309.8,594.0 L310.1,586.7 L310.4,582.2 L310.7,580.8 L311.0,575.3 L311.3,570.9 L311.6,569.3 L311.9,557.4 L312.2,544.6 L312.5,532.9 L312.5,532.9 L312.8,540.9 L313.1,544.3 L313.4,546.1 L313.7,549.6 L314.0,554.6 L314.2,560.0 L314.3,559.4 L314.6,557.7 L314.8,556.0 L314.9,558.4 L315.2,565.1 L315.5,573.2 L315.8,576.8 L316.1,576.9 L316.4,580.0 L316.7,582.1 L317.0,584.4 L317.3,590.5 L317.6,596.3 L317.9,603.6 L317.9,603.6 L318.2,597.1 L318.5,593.0 L318.8,587.1 L319.1,583.6 L319.4,583.5 L319.7,580.9 L320.0,579.5 L320.3,578.4 L320.6,571.5 L320.9,565.3 L321.1,561.5 L321.2,563.5 L321.5,569.7 L321.8,573.4 L322.1,577.8 L322.4,579.4 L322.7,579.2 L323.0,583.4 L323.3,586.1 L323.6,585.6 L323.9,590.9 L324.2,597.1 L324.4,600.8 L324.5,598.4 L324.8,591.6 L325.1,587.1 L325.4,580.8 L325.7,578.5 L326.0,580.8 L326.3,577.7 L326.6,571.7 L326.9,569.4 L327.2,563.8 L327.5,556.5 L327.5,556.5 L327.8,564.5 L328.1,570.9 L328.4,573.4 L328.7,579.7 L329.0,584.3 L329.3,581.9 L329.6,582.7 L329.9,590.0 L330.2,594.4 L330.5,600.0 L330.8,607.9 L330.8,607.9 L331.1,596.2 L331.4,586.1 L331.7,583.1 L332.0,579.4 L332.3,572.3 L332.6,570.4 L332.9,565.8 L333.2,553.9 L333.4,546.2 L333.5,548.6 L333.8,557.2 L334.1,564.4 L334.4,569.4 L334.7,575.0 L335.0,577.1 L335.3,576.6 L335.6,581.9 L335.9,585.5 L336.2,584.1 L336.5,587.4 L336.8,597.4 L337.1,603.4 L337.4,610.8 L337.5,613.6 L337.7,608.6 L338.0,601.4 L338.3,594.7 L338.6,594.0 L338.9,592.6 L339.2,586.7 L339.5,584.8 L339.8,584.1 L340.1,576.9 L340.4,569.0 L340.5,566.5 L340.7,575.1 L341.0,585.3 L341.3,590.9 L341.6,596.8 L341.9,599.6 L342.2,603.7 L342.5,615.2 L342.7,623.9 L342.8,622.9 L343.1,619.4 L343.4,616.5 L343.7,615.4 L344.0,612.4 L344.3,611.6 L344.6,613.5 L344.9,611.4 L345.2,607.6 L345.5,606.3 L345.8,603.4 L346.0,601.0 L346.1,601.2 L346.4,601.9 L346.7,602.5 L347.0,603.0 L347.0,603.0 L347.3,601.5 L347.6,600.7 L347.9,598.5 L348.0,598.0 L348.2,598.3 L348.5,599.8 L348.8,600.5 L349.0,601.0 L349.1,599.3 L349.4,595.0 L349.7,591.4 L350.0,589.0 L350.3,589.8 L350.6,587.6 L350.9,583.3 L351.2,579.3 L351.3,577.7 L351.5,583.6 L351.8,589.2 L352.1,591.9 L352.4,594.5 L352.7,599.1 L353.0,607.2 L353.0,607.2 L353.3,603.2 L353.6,597.8 L353.9,593.7 L354.2,593.3 L354.5,590.5 L354.8,587.0 L355.1,587.3 L355.4,586.4 L355.7,584.7 L356.0,584.6 L356.3,581.7 L356.6,576.3 L356.9,575.3 L357.2,571.4 L357.5,566.2 L357.5,566.2 L357.8,572.4 L358.1,579.1 L358.4,582.9 L358.7,586.1 L359.0,589.4 L359.3,587.8 L359.6,588.6 L359.9,596.4 L360.2,599.7 L360.5,603.4 L360.8,610.8 L360.8,610.8 L361.1,602.7 L361.4,596.0 L361.7,595.3 L362.0,593.5 L362.3,585.8 L362.6,579.2 L362.7,576.5 L362.9,580.5 L363.2,584.6 L363.5,585.4 L363.8,590.1 L364.1,590.8 L364.4,590.2 L364.7,596.2 L365.0,597.6 L365.3,596.5 L365.6,602.9 L365.8,606.5 L365.9,605.4 L366.2,600.3 L366.5,594.5 L366.8,594.2 L367.1,590.5 L367.4,588.5 L367.7,593.0 L368.0,589.2 L368.3,580.3 L368.6,581.1 L368.9,578.1 L369.1,573.7 L369.2,575.7 L369.5,580.5 L369.8,587.7 L370.1,590.4 L370.4,591.7 L370.7,596.9 L371.0,594.9 L371.3,592.9 L371.6,603.1 L371.9,608.3 L372.2,611.8 L372.3,614.3 L372.5,611.0 L372.8,610.3 L373.1,606.3 L373.4,601.0 L373.7,602.6 L374.0,600.3 L374.3,598.3 L374.6,602.4 L374.9,598.3 L375.2,590.7 L375.5,591.1 L375.8,587.2 L375.8,587.2 L376.1,592.8 L376.4,595.6 L376.7,602.0 L377.0,601.9 L377.3,603.2 L377.6,608.4 L377.9,612.9 L378.0,615.1 L378.2,608.4 L378.5,602.9 L378.8,596.9 L379.1,586.6 L379.4,586.7 L379.7,587.9 L380.0,582.8 L380.3,580.0 L380.6,573.5 L380.9,563.8 L381.1,558.6 L381.2,560.5 L381.5,568.6 L381.8,572.2 L382.1,574.1 L382.4,580.1 L382.7,581.6 L383.0,582.4 L383.3,586.8 L383.6,586.1 L383.9,585.6 L384.2,593.5 L384.5,598.9 L384.8,603.6 L385.0,607.9 L385.1,606.0 L385.4,601.0 L385.7,596.0 L386.0,596.1 L386.3,596.6 L386.6,591.0 L386.9,587.2 L387.2,582.2 L387.2,582.2 L387.5,584.0 L387.8,585.2 L388.1,587.6 L388.4,588.7 L388.6,590.0 L388.7,589.4 L389.0,588.8 L389.3,586.6 L389.4,586.0 L389.6,589.7 L389.9,595.2 L390.2,599.8 L390.5,600.0 L390.8,601.6 L391.1,604.6 L391.4,608.6 L391.7,615.1 L391.7,615.1 L392.0,608.2 L392.3,600.6 L392.6,594.1 L392.9,593.9 L393.2,591.7 L393.5,587.7 L393.8,586.8 L394.1,584.0 L394.4,578.0 L394.7,572.1 L395.0,564.4 L395.0,564.4 L395.3,569.8 L395.6,574.4 L395.9,579.1 L396.2,577.9 L396.5,579.5 L396.8,586.0 L397.0,590.0 L397.1,589.7 L397.4,588.0 L397.7,587.1 L398.0,586.0 L398.3,583.6 L398.6,583.5 L398.9,582.0 L398.9,582.0 L399.2,584.7 L399.5,586.6 L399.8,592.3 L400.1,593.1 L400.4,591.1 L400.7,593.2 L401.0,594.4 L401.3,594.5 L401.6,598.7 L401.9,601.3 L402.2,603.9 L402.2,603.9 L402.5,598.0 L402.8,595.6 L403.1,591.1 L403.4,585.7 L403.7,585.4 L404.0,584.0 L404.3,581.4 L404.6,583.3 L404.9,581.3 L405.2,573.6 L405.5,571.0 L405.8,567.4 L406.0,563.4 L406.1,565.0 L406.4,568.9 L406.7,573.6 L407.0,575.2 L407.3,576.6 L407.6,581.9 L407.9,582.0 L408.2,578.5 L408.5,582.4 L408.8,587.5 L409.1,588.6 L409.4,592.6 L409.7,597.2 L409.7,597.2 L410.0,591.5 L410.3,588.3 L410.6,589.8 L410.9,585.1 L411.2,581.1 L411.5,576.8 L411.5,576.8 L411.8,579.1 L412.1,579.5 L412.4,581.9 L412.7,583.9 L413.0,584.5 L413.3,587.8 L413.6,589.1 L413.8,590.0 L413.9,588.7 L414.2,585.7 L414.5,585.3 L414.8,581.9 L415.1,579.9 L415.4,581.3 L415.7,579.5 L416.0,577.3 L416.3,574.8 L416.5,572.5 L416.6,574.7 L416.9,581.0 L417.2,588.1 L417.5,592.2 L417.8,592.8 L418.1,595.8 L418.4,598.5 L418.7,598.9 L419.0,602.4 L419.3,606.8 L419.6,611.6 L419.9,618.9 L420.0,621.1 L420.2,616.7 L420.5,609.1 L420.8,603.0 L421.1,599.9 L421.4,596.4 L421.7,593.7 L422.0,592.9 L422.3,590.4 L422.6,587.7 L422.9,586.4 L423.2,581.7 L423.5,574.8 L423.8,568.3 L424.0,563.7 L424.1,568.6 L424.4,581.3 L424.7,589.6 L425.0,594.1 L425.3,596.4 L425.6,604.8 L425.9,618.2 L426.0,622.9 L426.2,618.0 L426.5,609.7 L426.8,603.6 L427.1,598.1 L427.4,592.3 L427.7,590.3 L428.0,587.3 L428.3,582.9 L428.6,582.0 L428.9,583.2 L429.2,579.9 L429.5,574.9 L429.8,573.2 L430.1,568.1 L430.4,561.5 L430.7,556.2 L431.0,548.1 L431.2,542.9 L431.3,545.2 L431.6,553.1 L431.9,561.6 L432.2,562.8 L432.5,563.4 L432.8,568.7 L433.1,570.6 L433.4,571.9 L433.7,578.2 L434.0,584.2 L434.3,592.0 L434.3,592.0 L434.6,590.5 L434.9,589.0 L435.2,586.0 L435.2,586.0 L435.5,589.6 L435.8,595.8 L436.0,598.0 L436.1,595.7 L436.4,586.8 L436.7,580.9 L436.9,576.0 L437.0,582.1 L437.3,595.4 L437.6,602.8 L437.9,607.7 L438.2,620.8 L438.3,627.2 L438.5,617.9 L438.8,607.7 L439.1,592.4 L439.4,583.2 L439.7,585.8 L440.0,582.2 L440.3,575.4 L440.6,571.7 L440.9,560.9 L441.2,548.2 L441.5,535.3 L441.5,535.3 L441.8,551.5 L442.1,559.3 L442.4,568.6 L442.7,580.5 L443.0,580.2 L443.3,582.5 L443.6,591.6 L443.9,598.7 L444.2,613.1 L444.4,623.6 L444.5,621.4 L444.8,613.1 L445.1,601.9 L445.4,601.5 L445.7,600.3 L446.0,595.3 L446.3,597.0 L446.6,592.1 L446.9,582.0 L447.2,578.5 L447.5,570.0 L447.5,570.0 L447.8,571.6 L448.1,574.0 L448.1,574.0 L448.4,564.7 L448.7,554.3 L448.9,548.2 L449.0,550.4 L449.3,558.8 L449.6,562.5 L449.9,569.3 L450.0,572.0 L450.2,570.6 L450.5,567.3 L450.6,566.0 L450.8,568.6 L451.1,573.9 L451.4,578.4 L451.5,580.0 L451.7,573.6 L452.0,567.8 L452.3,562.7 L452.6,553.6 L452.9,554.7 L453.2,556.8 L453.5,548.3 L453.8,540.9 L454.1,532.6 L454.1,532.6 L454.4,546.7 L454.7,558.3 L455.0,568.8 L455.3,570.1 L455.6,571.8 L455.9,580.7 L456.2,586.4 L456.5,594.7 L456.8,609.5 L456.9,614.3 L457.1,601.1 L457.4,588.3 L457.7,583.6 L458.0,571.6 L458.2,557.9 L458.3,560.0 L458.6,566.8 L458.9,574.3 L459.2,576.4 L459.5,577.4 L459.8,582.7 L460.1,585.0 L460.4,583.7 L460.7,587.1 L461.0,591.8 L461.3,596.2 L461.6,603.2 L461.8,607.6 L461.9,603.1 L462.2,589.3 L462.5,578.5 L462.8,575.4 L463.1,571.8 L463.4,566.1 L463.7,561.1 L464.0,551.6 L464.3,538.2 L464.4,533.6 L464.6,537.1 L464.9,541.5 L465.2,541.4 L465.5,542.6 L465.8,546.8 L466.1,549.9 L466.3,553.0 L466.4,552.4 L466.7,551.0 L466.9,550.0 L467.0,553.1 L467.3,561.5 L467.6,569.6 L467.9,574.7 L468.2,574.1 L468.5,576.5 L468.8,582.6 L469.1,585.6 L469.4,591.5 L469.7,600.9 L469.8,603.9 L470.0,597.7 L470.3,590.5 L470.6,589.4 L470.9,586.5 L471.2,579.4 L471.5,571.5 L471.5,571.5 L471.8,579.8 L472.1,585.7 L472.4,590.1 L472.7,595.4 L473.0,597.0 L473.3,598.7 L473.6,603.0 L473.9,603.1 L474.2,603.9 L474.5,613.5 L474.8,620.1 L475.1,626.8 L475.1,626.8 L475.4,618.6 L475.7,613.0 L476.0,605.7 L476.3,602.7 L476.6,601.0 L476.9,596.0 L477.2,595.5 L477.5,597.0 L477.8,589.9 L478.1,582.0 L478.4,577.6 L478.7,569.4 L478.7,569.4 L479.0,573.4 L479.3,577.2 L479.6,578.8 L479.9,578.2 L480.2,582.7 L480.5,584.4 L480.8,586.4 L481.0,590.0 L481.1,588.1 L481.4,584.3 L481.7,579.6 L482.0,576.9 L482.3,577.3 L482.6,573.8 L482.9,570.5 L483.2,565.1 L483.2,565.1 L483.5,574.3 L483.8,579.9 L484.1,587.0 L484.4,589.4 L484.7,589.7 L485.0,595.8 L485.3,603.6 L485.5,610.0 L485.6,607.9 L485.9,602.9 L486.2,599.4 L486.5,592.5 L486.8,590.2 L487.1,591.4 L487.4,589.0 L487.7,587.4 L488.0,585.9 L488.3,580.6 L488.6,576.1 L488.9,571.2 L489.0,569.1 L489.2,572.2 L489.5,574.8 L489.8,577.5 L490.1,579.6 L490.4,579.7 L490.7,582.1 L491.0,585.3 L491.3,589.3 L491.3,589.3 L491.6,585.1 L491.9,582.8 L492.2,579.1 L492.5,575.5 L492.8,575.2 L493.1,574.7 L493.4,573.1 L493.7,572.7 L494.0,570.8 L494.3,567.3 L494.6,565.1 L494.9,561.5 L495.1,558.6 L495.2,561.9 L495.5,571.0 L495.8,579.7 L496.1,584.8 L496.4,586.4 L496.7,589.1 L497.0,592.4 L497.3,596.5 L497.6,604.8 L497.9,614.4 L498.0,617.6 L498.2,611.7 L498.5,603.5 L498.8,598.7 L499.1,593.7 L499.4,588.9 L499.7,588.6 L500.0,587.6 L500.3,582.8 L500.6,578.1 L500.9,571.6 L501.2,562.8 L501.3,560.1 L501.5,566.7 L501.8,576.5 L502.1,581.2 L502.4,583.8 L502.7,589.6 L503.0,592.1 L503.3,593.5 L503.6,601.1 L503.9,610.0 L504.1,616.5 L504.2,612.9 L504.5,603.5 L504.8,596.9 L505.1,588.0 L505.4,585.9 L505.7,588.2 L506.0,582.3 L506.3,574.0 L506.6,565.7 L506.8,558.6 L506.9,560.2 L507.2,564.4 L507.5,571.6 L507.8,573.9 L508.1,570.1 L508.4,574.4 L508.7,578.9 L509.0,577.4 L509.3,580.8 L509.6,585.0 L509.9,588.1 L510.1,592.2 L510.2,589.1 L510.5,582.9 L510.8,574.0 L511.1,566.5 L511.4,569.4 L511.7,566.6 L512.0,561.7 L512.3,557.2 L512.6,547.2 L512.7,544.3 L512.9,548.6 L513.2,559.2 L513.5,567.7 L513.8,565.8 L514.1,571.1 L514.4,576.7 L514.7,575.5 L515.0,579.9 L515.3,583.8 L515.6,580.6 L515.9,589.8 L516.2,600.5 L516.5,605.9 L516.6,608.6 L516.8,602.4 L517.1,597.2 L517.4,591.8 L517.7,585.3 L518.0,585.6 L518.3,581.5 L518.6,577.1 L518.9,580.9 L519.2,575.5 L519.5,564.6 L519.8,559.0 L519.9,556.6 L520.1,563.7 L520.4,570.5 L520.7,574.2 L521.0,580.9 L521.3,581.1 L521.6,583.4 L521.9,590.9 L522.2,594.5 L522.5,603.0 L522.6,606.5 L522.8,602.5 L523.1,598.1 L523.4,588.5 L523.7,585.7 L524.0,587.6 L524.3,583.9 L524.6,582.6 L524.9,581.5 L525.2,573.3 L525.5,567.5 L525.7,563.7 L525.8,566.2 L526.1,573.2 L526.4,574.6 L526.7,578.6 L527.0,582.6 L527.3,582.0 L527.6,585.9 L527.9,591.1 L528.2,596.2 L528.3,598.6 L528.5,594.6 L528.8,591.4 L529.1,587.4 L529.4,580.4 L529.7,579.6 L530.0,579.4 L530.3,576.7 L530.6,577.1 L530.9,576.1 L531.2,570.2 L531.5,566.8 L531.8,564.7 L532.1,558.7 L532.2,556.8 L532.4,561.7 L532.7,569.3 L533.0,575.9 L533.3,578.4 L533.6,582.4 L533.9,584.3 L534.2,583.2 L534.5,587.9 L534.8,595.4 L535.1,600.7 L535.4,608.6 L535.4,608.6 L535.7,601.7 L536.0,595.4 L536.3,589.2 L536.6,586.1 L536.9,582.1 L537.2,578.5 L537.5,579.4 L537.8,578.9 L538.1,573.6 L538.4,570.6 L538.7,569.1 L539.0,562.4 L539.3,555.3 L539.6,548.6 L539.6,548.6 L539.9,559.3 L540.2,568.0 L540.5,576.5 L540.8,578.7 L541.1,578.7 L541.4,584.5 L541.7,590.2 L542.0,595.2 L542.3,605.5 L542.5,612.9 L542.6,609.9 L542.9,600.3 L543.2,593.9 L543.5,589.6 L543.8,582.7 L544.1,581.6 L544.4,583.4 L544.7,577.4 L545.0,570.4 L545.3,565.0 L545.6,555.6 L545.7,552.5 L545.9,561.8 L546.2,574.8 L546.5,580.8 L546.8,581.3 L547.1,588.7 L547.4,596.4 L547.7,606.5 L547.9,616.2 L548.0,614.9 L548.3,611.5 L548.6,607.1 L548.9,607.3 L549.2,608.3 L549.5,602.9 L549.8,600.8 L550.1,602.5 L550.4,598.5 L550.7,594.3 L550.7,594.3 L551.0,596.9 L551.3,598.4 L551.6,599.8 L551.9,604.2 L552.2,605.8 L552.2,605.8 L552.5,602.7 L552.8,600.6 L553.1,599.8 L553.4,597.0 L553.4,597.0 L553.7,599.0 L554.0,601.0 L554.0,601.0 L554.3,595.7 L554.6,591.4 L554.7,590.0 L554.9,594.7 L555.2,599.5 L555.5,599.6 L555.8,603.6 L556.1,606.7 L556.4,607.9 L556.7,613.1 L556.9,617.2 L557.0,613.7 L557.3,603.7 L557.6,599.7 L557.9,599.0 L558.2,592.2 L558.5,583.0 L558.6,579.7 L558.8,584.4 L559.1,590.4 L559.4,591.6 L559.7,593.9 L560.0,596.9 L560.3,599.3 L560.6,604.9 L560.8,609.3 L560.9,607.7 L561.2,602.9 L561.5,600.7 L561.8,601.4 L562.1,598.1 L562.4,593.5 L562.5,592.0 L562.7,593.2 L563.0,595.2 L563.2,596.0 L563.3,594.3 L563.6,589.6 L563.9,587.0 L564.2,584.6 L564.5,583.9 L564.8,583.0 L565.1,578.8 L565.4,574.4 L565.5,572.9 L565.7,578.1 L566.0,583.9 L566.3,585.1 L566.6,587.5 L566.9,592.3 L567.2,599.3 L567.2,599.3 L567.5,591.7 L567.8,585.8 L568.1,579.5 L568.4,576.1 L568.7,576.4 L569.0,574.2 L569.3,570.2 L569.6,566.9 L569.9,560.9 L570.2,553.3 L570.3,550.8 L570.5,553.7 L570.8,557.8 L571.1,559.0 L571.4,561.4 L571.7,564.4 L572.0,564.1 L572.3,565.0 L572.6,567.8 L572.9,570.2 L573.2,574.6 L573.3,576.0 L573.5,575.4 L573.8,573.5 L573.9,573.0 L574.1,577.7 L574.4,584.4 L574.7,588.2 L575.0,588.6 L575.3,592.4 L575.6,598.1 L575.8,603.3 L575.9,599.9 L576.2,592.2 L576.5,588.3 L576.8,581.6 L577.1,579.8 L577.4,578.0 L577.7,569.3 L577.9,563.0 L578.0,563.4 L578.3,565.2 L578.5,566.0 L578.6,565.3 L578.9,563.2 L579.2,564.6 L579.5,560.2 L579.8,557.2 L580.1,556.8 L580.1,556.8 L580.4,561.1 L580.7,561.8 L581.0,564.9 L581.3,567.7 L581.6,566.4 L581.9,570.2 L582.2,571.7 L582.5,566.9 L582.8,571.6 L583.1,577.8 L583.4,578.9 L583.5,580.0 L583.7,576.7 L584.0,574.9 L584.3,572.7 L584.6,569.0 L584.9,571.1 L585.2,567.8 L585.5,562.8 L585.8,567.5 L586.1,565.6 L586.4,558.9 L586.6,557.2 L586.7,557.4 L587.0,560.6 L587.3,561.1 L587.5,562.0 L587.6,561.3 L587.9,560.5 L588.2,556.2 L588.5,554.1 L588.8,554.5 L588.9,553.4 L589.1,556.8 L589.4,556.4 L589.7,558.2 L590.0,563.6 L590.3,562.4 L590.6,565.5 L590.8,568.0 L590.9,565.7 L591.2,557.0 L591.5,550.6 L591.8,555.5 L592.1,552.5 L592.4,543.6 L592.7,538.9 L592.9,534.0 L593.0,536.4 L593.3,542.0 L593.6,547.9 L593.9,553.2 L594.2,549.3 L594.5,550.5 L594.8,559.9 L595.1,560.7 L595.4,562.1 L595.7,570.0 L595.8,572.2 L596.0,571.6 L596.3,569.2 L596.6,568.8 L596.9,568.2 L597.2,563.0 L597.5,563.1 L597.8,562.0 L597.8,562.0 L598.1,563.6 L598.4,565.0 L598.4,565.0 L598.7,564.2 L599.0,564.4 L599.3,560.8 L599.6,560.7 L599.9,560.1 L600.2,557.5 L600.5,557.9 L600.8,556.5 L600.8,556.5 L601.1,559.7 L601.4,562.9 L601.7,570.1 L602.0,570.9 L602.3,569.5 L602.6,573.1 L602.9,574.5 L603.2,574.2 L603.5,576.8 L603.8,577.7 L604.1,577.4 L604.4,583.3 L604.7,587.2 L605.0,590.0 L605.1,591.5 L605.3,587.6 L605.6,583.8 L605.9,579.1 L606.2,576.1 L606.5,575.5 L606.8,572.4 L607.1,571.2 L607.4,572.2 L607.7,567.5 L608.0,562.0 L608.3,557.6 L608.4,555.8 L608.6,559.7 L608.9,564.9 L609.2,570.2 L609.5,574.1 L609.8,574.4 L610.1,578.7 L610.4,581.9 L610.7,580.4 L611.0,581.1 L611.3,585.1 L611.6,586.6 L611.9,591.2 L612.2,596.7 L612.5,601.1 L612.7,605.0 L612.8,603.3 L613.1,599.9 L613.4,597.2 L613.7,593.4 L614.0,593.4 L614.3,592.2 L614.6,589.1 L614.9,586.9 L615.2,582.0 L615.2,582.0 L615.5,582.8 L615.8,584.7 L616.0,586.0 L616.1,586.7 L616.4,587.9 L616.7,588.4 L617.0,591.0 L617.3,590.8 L617.6,592.0 L617.9,595.7 L618.2,595.8 L618.4,596.5 L618.5,594.4 L618.8,589.4 L619.1,587.3 L619.4,581.7 L619.7,579.3 L620.0,580.1 L620.3,577.5 L620.6,575.7 L620.9,573.7 L621.2,567.5 L621.5,562.5 L621.5,562.5 L621.8,567.2 L622.1,571.7 L622.4,570.6 L622.7,574.6 L623.0,579.8 L623.3,578.9 L623.6,578.8 L623.9,581.3 L624.2,580.7 L624.5,582.6 L624.8,587.9 L625.1,588.6 L625.4,590.5 L625.7,595.9 L625.8,597.2 L626.0,590.6 L626.3,579.8 L626.6,572.2 L626.9,570.8 L627.2,567.4 L627.5,563.9 L627.8,559.7 L628.1,549.8 L628.4,539.1 L628.4,539.1 L628.7,545.2 L629.0,549.8 L629.3,548.3 L629.6,551.1 L629.9,556.2 L630.1,560.0 L630.2,559.8 L630.5,559.2 L630.8,559.6 L631.1,557.1 L631.4,556.5 L631.7,556.9 L631.8,556.5 L632.0,560.5 L632.3,565.0 L632.6,569.9 L632.9,574.9 L633.2,576.3 L633.5,579.8 L633.8,581.6 L634.1,580.2 L634.4,581.8 L634.7,586.6 L635.0,588.0 L635.3,591.0 L635.6,596.3 L635.9,601.7 L636.1,605.5 L636.2,603.5 L636.5,599.0 L636.8,595.3 L637.1,591.7 L637.4,591.9 L637.7,590.4 L638.0,585.5 L638.3,580.0 L638.3,580.0 L638.6,581.6 L638.9,583.0 L638.9,583.0 L639.2,579.2 L639.5,575.7 L639.8,571.3 L639.9,570.1 L640.1,574.2 L640.4,580.3 L640.7,583.2 L641.0,583.5 L641.3,586.2 L641.6,590.0 L641.9,595.7 L642.0,597.9 L642.2,595.6 L642.5,591.7 L642.8,587.5 L643.1,586.6 L643.4,585.8 L643.7,582.3 L644.0,581.6 L644.3,582.3 L644.6,580.5 L644.9,578.8 L645.2,577.3 L645.5,573.0 L645.8,570.0 L646.1,566.5 L646.1,566.5 L646.4,571.5 L646.7,573.8 L647.0,577.9 L647.3,580.0 L647.6,579.1 L647.9,582.0 L648.2,585.8 L648.5,590.7 L648.5,590.7 L648.8,588.4 L649.1,587.3 L649.4,581.9 L649.7,579.8 L650.0,578.0 L650.0,578.0 L650.3,582.4 L650.6,583.8 L650.9,586.0 L651.2,586.8 L651.5,590.5 L651.6,592.2 L651.8,587.3 L652.1,582.6 L652.4,575.7 L652.7,574.9 L653.0,572.3 L653.3,563.9 L653.3,563.9 L653.6,567.5 L653.9,571.9 L654.2,571.2 L654.5,570.9 L654.8,578.2 L655.1,579.3 L655.4,575.7 L655.7,580.5 L656.0,585.0 L656.0,585.0 L656.3,583.4 L656.6,581.8 L656.9,582.5 L657.2,576.8 L657.5,575.8 L657.8,576.1 L657.9,575.1 L658.1,579.1 L658.4,580.3 L658.7,585.2 L659.0,592.0 L659.3,589.3 L659.6,590.2 L659.9,594.2 L660.2,594.9 L660.5,600.6 L660.7,604.3 L660.8,600.8 L661.1,589.6 L661.4,578.4 L661.7,581.6 L662.0,579.5 L662.3,567.8 L662.6,556.9 L662.6,556.9 L662.9,571.5 L663.2,579.3 L663.5,583.9 L663.8,590.2 L664.1,598.6 L664.3,609.3 L664.4,604.6 L664.7,595.7 L665.0,588.0 L665.3,578.3 L665.6,579.3 L665.9,572.2 L666.2,558.6 L666.2,558.6 L666.5,561.0 L666.8,564.0 L667.1,564.4 L667.4,568.5 L667.6,570.0 L667.7,570.0 L668.0,568.0 L668.0,568.0 L668.3,606.3 L668.6,647.2 L668.6,647.2 L668.9,646.0 L669.2,642.3 L669.5,642.0 L669.8,640.0 L669.8,640.0 L670.1,615.6 L670.4,599.8 L670.7,588.9 L671.0,577.7 L671.3,575.5 L671.6,567.3 L671.9,546.9 L672.2,523.3 L672.2,523.3 L672.5,535.5 L672.8,544.4 L673.1,554.8 L673.4,564.7 L673.7,565.6 L674.0,566.0 L674.3,572.1 L674.6,574.7 L674.9,579.2 L675.2,588.5 L675.5,596.0 L675.8,607.3 L676.0,615.8 L676.1,612.2 L676.4,601.9 L676.7,590.9 L677.0,583.7 L677.3,579.9 L677.6,575.5 L677.9,574.5 L678.2,573.1 L678.5,565.1 L678.8,559.0 L679.1,552.8 L679.4,541.2 L679.6,533.6 L679.7,537.2 L680.0,548.5 L680.3,557.2 L680.6,563.0 L680.9,569.4 L681.2,571.2 L681.5,571.1 L681.8,577.0 L682.1,584.2 L682.4,590.4 L682.7,600.9 L682.9,608.6 L683.0,604.8 L683.3,593.0 L683.6,583.3 L683.9,577.4 L684.2,571.4 L684.5,567.9 L684.8,568.1 L685.1,564.0 L685.4,555.1 L685.7,547.4 L686.0,537.4 L686.2,529.0 L686.3,532.8 L686.6,543.4 L686.9,553.5 L687.2,560.5 L687.5,565.0 L687.8,569.6 L688.1,570.8 L688.4,571.0 L688.7,579.2 L689.0,588.0 L689.3,594.4 L689.6,606.0 L689.7,610.0 L689.9,603.3 L690.2,594.2 L690.5,586.4 L690.8,583.6 L691.1,579.8 L691.4,575.6 L691.7,574.9 L692.0,568.1 L692.3,557.0 L692.5,550.5 L692.6,553.2 L692.9,563.0 L693.2,569.6 L693.5,574.5 L693.8,580.4 L694.1,580.0 L694.4,580.5 L694.7,587.2 L695.0,591.6 L695.3,593.1 L695.6,601.3 L695.9,610.8 L696.0,613.6 L696.2,607.0 L696.5,597.8 L696.8,591.7 L697.1,582.6 L697.4,578.3 L697.7,581.0 L698.0,577.5 L698.3,571.3 L698.6,568.9 L698.9,562.9 L699.2,554.2 L699.5,544.9 L699.6,541.5 L699.8,547.0 L700.1,553.2 L700.4,560.5 L700.7,569.1 L701.0,569.4 L701.3,570.5 L701.6,574.8 L701.9,575.7 L702.2,578.0 L702.5,583.3 L702.8,586.3 L703.1,592.2 L703.4,601.6 L703.6,606.5 L703.7,604.4 L704.0,597.3 L704.3,594.4 L704.6,594.2 L704.9,590.6 L705.2,586.6 L705.5,580.0 L705.5,580.0 L705.8,581.1 L706.1,583.0 L706.1,583.0 L706.4,579.3 L706.7,573.8 L707.0,569.8 L707.2,567.2 L707.3,569.5 L707.6,575.9 L707.9,580.2 L708.2,584.1 L708.5,585.5 L708.8,586.8 L709.1,590.3 L709.4,592.4 L709.7,596.6 L710.0,603.7 L710.1,605.8 L710.3,600.8 L710.6,593.1 L710.9,586.9 L711.2,583.9 L711.5,580.8 L711.8,579.7 L712.1,578.8 L712.4,573.6 L712.7,568.2 L713.0,562.5 L713.3,554.4 L713.3,554.4 L713.6,559.9 L713.9,564.6 L714.2,567.3 L714.5,568.1 L714.8,570.7 L715.1,573.2 L715.4,575.9 L715.7,581.6 L715.8,583.6 L716.0,580.6 L716.3,576.1 L716.6,571.8 L716.9,570.0 L717.2,567.1 L717.5,565.3 L717.8,566.5 L718.1,565.5 L718.4,560.4 L718.7,558.0 L719.0,555.5 L719.3,550.2 L719.4,548.6 L719.6,553.6 L719.9,561.2 L720.2,566.1 L720.5,569.0 L720.8,574.6 L721.1,575.7 L721.4,573.5 L721.7,578.9 L722.0,586.4 L722.3,591.3 L722.6,599.0 L722.6,599.0 L722.9,593.3 L723.2,587.8 L723.5,584.1 L723.8,584.9 L724.1,581.0 L724.4,576.2 L724.7,578.3 L725.0,575.0 L725.3,567.2 L725.5,563.7 L725.6,565.3 L725.9,571.5 L726.2,574.0 L726.5,574.0 L726.8,577.4 L727.1,579.1 L727.4,584.3 L727.5,586.4 L727.7,582.0 L728.0,575.9 L728.3,567.5 L728.6,570.1 L728.9,569.7 L729.2,560.8 L729.4,555.8 L729.5,557.8 L729.8,563.8 L730.1,564.6 L730.4,567.5 L730.7,573.2 L730.8,575.0 L731.0,564.3 L731.3,552.0 L731.6,553.2 L731.9,547.3 L732.2,534.4 L732.4,525.0 L732.5,529.5 L732.8,542.0 L733.1,547.3 L733.4,554.5 L733.7,558.3 L734.0,563.3 L734.3,578.0 L734.3,578.0 L734.6,574.8 L734.9,570.9 L735.2,568.0 L735.5,567.1 L735.8,561.9 L735.8,561.9 L736.1,566.6 L736.4,575.3 L736.7,576.7 L737.0,573.0 L737.3,580.7 L737.6,583.9 L737.9,581.4 L738.2,585.9 L738.5,587.2 L738.8,587.8 L739.1,595.9 L739.4,600.8 L739.4,600.8 L739.7,591.9 L740.0,583.7 L740.3,582.1 L740.6,576.6 L740.9,575.0 L741.2,575.8 L741.5,568.1 L741.8,563.4 L742.1,561.1 L742.4,551.6 L742.5,548.6 L742.7,553.6 L743.0,561.6 L743.3,568.5 L743.6,569.4 L743.9,572.9 L744.2,575.3 L744.5,577.0 L744.8,585.8 L745.1,594.3 L745.1,594.3 L745.4,582.5 L745.7,573.8 L746.0,574.3 L746.3,569.5 L746.6,559.8 L746.8,552.0 L746.9,552.5 L747.2,554.0 L747.4,555.0 L747.5,554.3 L747.8,553.1 L748.1,551.4 L748.4,547.9 L748.7,546.8 L748.7,546.8 L749.0,558.8 L749.3,567.4 L749.6,572.9 L749.9,580.6 L750.2,583.8 L750.5,584.9 L750.8,588.8 L751.1,593.4 L751.4,599.8 L751.7,610.6 L752.0,621.5 L752.0,621.5 L752.3,603.8 L752.6,590.2 L752.9,585.6 L753.2,581.3 L753.5,574.2 L753.8,564.1 L754.1,547.9 L754.2,542.0 L754.4,543.0 L754.7,545.4 L754.8,546.0 L755.0,541.6 L755.3,535.9 L755.6,533.8 L755.9,531.9 L756.2,524.8 L756.2,524.8 L756.5,546.3 L756.8,562.9 L757.1,570.8 L757.4,574.5 L757.7,584.3 L758.0,597.8 L758.3,616.8 L758.4,624.3 L758.6,615.3 L758.9,603.8 L759.2,593.2 L759.5,585.6 L759.8,581.6 L760.1,576.3 L760.4,572.6 L760.7,573.1 L761.0,566.8 L761.3,554.7 L761.6,545.6 L761.9,533.1 L762.0,528.6 L762.2,537.6 L762.5,550.4 L762.8,561.2 L763.1,564.4 L763.4,569.7 L763.7,576.5 L764.0,576.9 L764.3,580.8 L764.6,594.1 L764.9,606.3 L765.1,615.1 L765.2,611.9 L765.5,602.8 L765.8,594.4 L766.1,585.8 L766.4,585.3 L766.7,581.9 L767.0,574.8 L767.3,575.0 L767.6,576.2 L767.9,568.6 L768.2,561.7 L768.5,556.1 L768.8,546.2 L769.0,540.1 L769.1,543.5 L769.4,554.7 L769.7,560.7 L770.0,565.8 L770.3,575.5 L770.6,576.9 L770.9,575.3 L771.2,579.9 L771.5,585.6 L771.8,590.6 L772.1,599.9 L772.4,609.6 L772.5,612.9 L772.7,607.3 L773.0,600.6 L773.3,597.4 L773.6,589.4 L773.9,585.1 L774.2,585.8 L774.5,583.1 L774.8,581.4 L775.1,580.4 L775.4,574.1 L775.7,567.5 L776.0,562.7 L776.3,554.8 L776.3,554.8 L776.6,562.6 L776.9,569.4 L777.2,574.7 L777.5,576.2 L777.8,579.6 L778.1,582.7 L778.4,583.9 L778.7,590.6 L779.0,599.3 L779.1,601.9 L779.3,586.5 L779.6,569.4 L779.9,562.3 L780.2,556.0 L780.5,542.1 L780.8,520.5 L780.8,520.5 L781.1,531.3 L781.4,537.4 L781.7,541.1 L782.0,545.3 L782.3,549.1 L782.6,557.6 L782.8,565.0 L782.9,564.2 L783.2,561.8 L783.5,559.4 L783.7,557.9 L783.8,560.2 L784.1,567.1 L784.4,571.1 L784.7,575.5 L785.0,579.3 L785.3,579.5 L785.6,580.3 L785.9,584.3 L786.2,588.5 L786.5,594.0 L786.8,600.8 L786.8,600.8 L787.1,593.6 L787.4,587.2 L787.7,584.8 L788.0,583.4 L788.3,579.6 L788.6,577.1 L788.9,574.2 L789.2,567.4 L789.4,562.5 L789.5,563.9 L789.8,568.4 L790.1,571.8 L790.4,573.6 L790.7,576.7 L791.0,577.2 L791.3,575.9 L791.6,579.3 L791.9,583.6 L792.2,585.0 L792.5,589.4 L792.6,591.0 L792.8,586.2 L793.1,580.0 L793.4,575.5 L793.7,575.0 L794.0,571.6 L794.3,567.4 L794.6,564.0 L794.9,556.1 L794.9,556.1 L795.2,559.7 L795.5,563.3 L795.8,568.6 L796.1,568.7 L796.4,570.9 L796.7,573.3 L797.0,569.8 L797.3,571.9 L797.6,579.6 L797.9,580.9 L798.2,584.3 L798.3,586.0 L798.5,585.3 L798.8,583.9 L799.1,582.5 L799.3,582.0 L799.4,583.8 L799.7,588.2 L800.0,586.7 L800.3,591.5 L800.6,596.6 L800.9,593.7 L801.2,596.5 L801.5,600.6 L801.7,603.3 L801.8,600.9 L802.1,595.4 L802.4,595.1 L802.7,586.8 L803.0,582.3 L803.3,587.8 L803.6,584.1 L803.9,577.8 L804.2,572.7 L804.3,570.5 L804.5,572.8 L804.8,574.8 L805.1,583.1 L805.4,584.6 L805.7,577.2 L806.0,582.0 L806.3,588.7 L806.6,585.7 L806.9,588.4 L807.2,592.9 L807.4,595.3 L807.5,593.7 L807.8,590.5 L808.1,592.0 L808.4,585.4 L808.7,583.0 L809.0,585.0 L809.3,580.0 L809.3,580.0 L809.6,580.2 L809.9,582.8 L810.1,584.0 L810.2,583.1 L810.5,579.5 L810.8,578.5 L811.1,578.5 L811.4,573.1 L811.7,574.1 L812.0,573.1 L812.2,569.7 L812.3,570.7 L812.6,571.7 L812.9,577.3 L813.2,580.8 L813.5,577.7 L813.8,579.6 L814.1,581.0 L814.4,579.4 L814.7,584.4 L815.0,587.7 L815.3,589.6 L815.3,589.6 L815.6,585.1 L815.9,584.8 L816.2,583.0 L816.5,577.4 L816.8,577.5 L817.1,577.0 L817.4,574.1 L817.7,576.4 L818.0,577.0 L818.3,570.6 L818.6,567.9 L818.9,568.1 L819.2,564.1 L819.3,562.9 L819.5,565.1 L819.8,569.0 L820.1,571.5 L820.4,571.4 L820.7,575.8 L821.0,577.8 L821.3,574.5 L821.6,575.8 L821.9,581.0 L822.2,583.0 L822.5,586.3 L822.6,587.6 L822.8,582.9 L823.1,576.4 L823.4,571.3 L823.7,572.0 L824.0,570.4 L824.3,564.5 L824.6,560.9 L824.9,554.8 L825.0,552.2 L825.2,557.4 L825.5,563.9 L825.8,569.4 L826.1,570.9 L826.4,573.0 L826.7,577.7 L827.0,579.6 L827.3,585.1 L827.6,593.6 L827.6,593.6 L827.9,586.7 L828.2,580.2 L828.5,577.6 L828.8,576.9 L829.1,573.1 L829.4,568.4 L829.7,560.8 L829.7,560.8 L830.0,564.6 L830.3,567.6 L830.6,571.9 L830.9,570.6 L831.2,572.9 L831.5,578.0 L831.5,578.0 L831.8,573.2 L832.1,569.3 L832.4,569.0 L832.7,566.2 L833.0,562.7 L833.3,558.2 L833.3,558.2 L833.6,568.5 L833.9,573.4 L834.2,578.3 L834.5,583.2 L834.8,584.3 L835.1,590.6 L835.4,599.7 L835.5,602.9 L835.7,596.2 L836.0,587.8 L836.3,583.8 L836.6,576.3 L836.9,571.4 L837.2,572.9 L837.5,570.3 L837.8,564.7 L838.1,559.0 L838.4,549.5 L838.6,543.3 L838.7,544.6 L839.0,550.6 L839.3,556.8 L839.6,556.8 L839.9,560.1 L840.2,564.7 L840.5,564.7 L840.8,566.8 L841.1,570.1 L841.4,567.2 L841.7,568.0 L842.0,575.2 L842.3,578.6 L842.6,579.5 L842.9,585.4 L843.2,590.5 L843.2,590.5 L843.5,581.4 L843.8,576.5 L844.1,574.4 L844.4,568.0 L844.7,565.8 L845.0,561.7 L845.3,552.2 L845.3,552.2 L845.6,556.8 L845.9,562.3 L846.2,566.6 L846.5,568.2 L846.8,572.2 L847.1,572.9 L847.4,571.0 L847.7,574.4 L848.0,579.6 L848.3,579.9 L848.6,583.1 L848.9,589.6 L849.1,592.9 L849.2,591.5 L849.5,586.5 L849.8,583.3 L850.1,580.9 L850.4,578.2 L850.7,578.8 L851.0,578.4 L851.3,573.8 L851.6,571.4 L851.9,568.9 L852.2,563.7 L852.2,563.7 L852.5,564.8 L852.8,566.8 L853.1,568.9 L853.4,569.8 L853.7,571.5 L853.8,572.0 L854.0,571.1 L854.3,569.4 L854.4,569.0 L854.6,572.2 L854.9,576.1 L855.2,576.3 L855.5,578.4 L855.8,583.3 L855.8,583.3 L856.1,577.6 L856.4,573.5 L856.7,572.4 L857.0,570.1 L857.3,565.5 L857.5,561.5 L857.6,563.7 L857.9,570.5 L858.2,574.6 L858.5,578.7 L858.8,583.0 L859.1,584.2 L859.4,585.4 L859.7,587.6 L860.0,589.1 L860.3,592.4 L860.6,598.8 L860.9,604.5 L861.1,608.6 L861.2,606.3 L861.5,600.2 L861.8,596.0 L862.1,592.6 L862.4,592.3 L862.7,590.7 L863.0,585.6 L863.3,581.4 L863.6,575.0 L863.6,575.0 L863.9,576.3 L864.2,577.5 L864.3,578.0 L864.5,574.1 L864.8,569.3 L865.1,567.2 L865.4,567.8 L865.7,563.1 L866.0,557.8 L866.1,556.1 L866.3,563.3 L866.6,572.7 L866.9,575.8 L867.2,579.3 L867.5,582.3 L867.8,586.6 L868.1,596.3 L868.3,602.9 L868.4,600.0 L868.7,589.0 L869.0,581.9 L869.3,580.2 L869.6,572.1 L869.9,567.2 L870.2,568.7 L870.5,565.9 L870.8,561.1 L871.1,558.2 L871.4,548.6 L871.7,539.4 L871.9,533.9 L872.0,537.2 L872.3,547.2 L872.6,549.8 L872.9,557.2 L873.2,566.2 L873.5,564.7 L873.8,565.7 L874.1,570.1 L874.4,571.1 L874.7,578.2 L875.0,588.0 L875.3,594.9 L875.4,597.9 L875.6,590.7 L875.9,584.7 L876.2,581.2 L876.5,571.2 L876.8,569.5 L877.1,570.2 L877.4,564.4 L877.7,562.1 L878.0,556.6 L878.3,545.6 L878.4,542.9 L878.6,549.5 L878.9,562.7 L879.2,572.0 L879.5,570.8 L879.8,575.2 L880.1,579.6 L880.4,581.5 L880.7,592.0 L881.0,602.6 L881.2,609.3 L881.3,604.5 L881.6,589.1 L881.9,583.0 L882.2,575.6 L882.5,564.9 L882.8,563.9 L883.1,561.2 L883.4,553.6 L883.7,551.3 L884.0,541.8 L884.3,526.0 L884.5,517.6 L884.6,521.2 L884.9,535.3 L885.2,545.3 L885.5,549.5 L885.8,557.4 L886.1,559.8 L886.4,560.5 L886.7,567.9 L887.0,573.8 L887.3,576.0 L887.6,587.8 L887.9,601.4 L888.0,605.0 L888.2,598.5 L888.5,587.3 L888.8,581.5 L889.1,574.9 L889.4,569.6 L889.7,570.1 L890.0,565.6 L890.3,560.1 L890.6,560.8 L890.9,557.6 L891.2,545.4 L891.5,537.2 L891.8,527.9 L891.8,527.9 L892.1,539.5 L892.4,548.7 L892.7,556.7 L893.0,558.8 L893.3,561.9 L893.6,568.0 L893.9,570.5 L894.2,577.0 L894.5,589.1 L894.7,596.7 L894.8,593.0 L895.1,580.9 L895.4,572.1 L895.7,566.5 L896.0,561.4 L896.3,560.9 L896.6,558.5 L896.9,549.9 L897.2,542.6 L897.5,533.1 L897.7,524.8 L897.8,527.9 L898.1,536.8 L898.4,545.0 L898.7,549.6 L899.0,553.8 L899.3,558.5 L899.6,558.7 L899.9,558.9 L900.2,565.9 L900.5,573.1 L900.8,580.1 L901.1,589.6 L901.1,589.6 L901.4,584.9 L901.7,579.2 L902.0,577.2 L902.3,576.4 L902.6,570.9 L902.9,569.1 L903.2,570.6 L903.5,568.7 L903.8,566.6 L904.1,566.1 L904.4,560.3 L904.7,555.8 L905.0,552.3 L905.1,550.5 L905.3,554.1 L905.6,557.1 L905.9,561.0 L906.2,564.6 L906.5,564.6 L906.8,566.9 L907.1,569.0 L907.4,567.5 L907.7,571.5 L908.0,577.6 L908.3,581.4 L908.3,581.4 L908.6,575.2 L908.9,571.6 L909.2,570.1 L909.5,566.3 L909.8,566.1 L910.1,564.9 L910.4,560.2 L910.7,557.7 L911.0,552.9 L911.1,550.8 L911.3,554.8 L911.6,559.0 L911.9,567.0 L912.2,570.8 L912.5,569.0 L912.8,571.4 L913.1,574.4 L913.4,575.3 L913.7,580.1 L914.0,585.3 L914.3,590.6 L914.4,592.9 L914.6,588.4 L914.9,584.4 L915.2,578.7 L915.5,570.8 L915.8,571.0 L916.1,571.6 L916.4,567.5 L916.7,566.2 L917.0,565.1 L917.3,560.2 L917.6,557.0 L917.9,553.0 L918.2,545.6 L918.3,543.6 L918.5,549.1 L918.8,558.2 L919.1,564.7 L919.4,565.1 L919.7,568.0 L920.0,571.5 L920.3,575.9 L920.6,584.7 L920.8,590.7 L920.9,588.7 L921.2,581.2 L921.5,575.0 L921.8,574.5 L922.1,572.0 L922.4,569.0 L922.7,568.2 L923.0,564.0 L923.3,558.4 L923.6,552.5 L923.7,550.1 L923.9,557.7 L924.2,566.6 L924.5,574.8 L924.8,581.2 L925.1,583.2 L925.4,586.0 L925.7,589.5 L926.0,592.8 L926.3,601.5 L926.6,612.2 L926.8,619.1 L926.9,615.9 L927.2,605.6 L927.5,598.0 L927.8,591.0 L928.1,586.1 L928.4,583.9 L928.7,581.0 L929.0,577.6 L929.3,576.0 L929.6,572.3 L929.9,563.6 L930.2,555.7 L930.5,546.2 L930.6,542.9 L930.8,549.2 L931.1,558.2 L931.4,565.9 L931.7,569.4 L932.0,573.2 L932.3,577.0 L932.6,577.9 L932.9,580.0 L933.2,586.4 L933.5,593.8 L933.8,602.2 L934.0,608.6 L934.1,602.9 L934.4,586.8 L934.7,573.8 L935.0,567.8 L935.3,564.1 L935.6,557.6 L935.9,551.2 L936.2,540.3 L936.5,523.3 L936.6,517.6 L936.8,525.6 L937.1,538.1 L937.4,547.5 L937.7,554.1 L938.0,561.2 L938.3,562.4 L938.6,562.8 L938.9,569.4 L939.2,576.9 L939.5,581.6 L939.8,592.0 L940.1,605.3 L940.2,609.3 L940.4,603.4 L940.7,594.7 L941.0,589.9 L941.3,581.0 L941.6,575.0 L941.9,577.6 L942.2,576.5 L942.5,569.6 L942.8,567.7 L943.1,566.0 L943.4,558.2 L943.7,552.7 L944.0,544.4 L944.2,537.9 L944.3,541.3 L944.6,550.4 L944.9,562.5 L945.2,569.5 L945.5,568.2 L945.8,572.1 L946.1,576.1 L946.4,577.4 L946.7,586.2 L947.0,595.4 L947.3,604.0 L947.4,607.9 L947.6,601.8 L947.9,599.8 L948.2,597.8 L948.5,591.2 L948.8,585.0 L948.8,585.0 L949.1,587.3 L949.4,589.0 L949.4,589.0 L949.7,577.6 L950.0,571.3 L950.3,562.3 L950.6,560.6 L950.9,554.1 L951.1,544.3 L951.2,549.4 L951.5,561.2 L951.8,574.0 L952.1,581.5 L952.4,581.3 L952.7,588.1 L953.0,595.8 L953.3,607.7 L953.5,618.6 L953.6,614.2 L953.9,602.2 L954.2,585.4 L954.5,573.9 L954.8,575.6 L955.1,567.4 L955.4,559.9 L955.7,560.3 L956.0,556.5 L956.3,549.0 L956.6,545.6 L956.9,532.0 L957.2,517.2 L957.5,505.0 L957.5,505.0 L957.8,526.5 L958.1,540.5 L958.4,553.1 L958.7,566.0 L959.0,568.2 L959.3,573.9 L959.6,582.0 L959.9,586.1 L960.2,602.5 L960.5,623.3 L960.7,635.8 L960.8,633.6 L961.1,625.2 L961.4,619.9 L961.7,614.5 L962.0,608.1 L962.3,608.4 L962.6,603.9 L962.9,597.7 L963.2,599.6 L963.5,601.0 L963.8,596.0 L964.1,592.9 L964.4,590.9 L964.7,583.4 L965.0,579.7 L965.3,574.4 L965.6,566.0 L965.7,563.7 L965.9,567.5 L966.2,574.3 L966.5,578.9 L966.8,580.2 L967.1,583.2 L967.4,583.4 L967.7,584.5 L968.0,591.4 L968.3,597.0 L968.5,600.8 L968.6,598.0 L968.9,589.9 L969.2,584.9 L969.5,578.2 L969.8,574.6 L970.1,572.9 L970.4,569.1 L970.7,567.3 L971.0,568.4 L971.3,563.7 L971.6,555.9 L971.9,551.8 L972.2,544.6 L972.4,539.1 L972.5,542.0 L972.8,550.8 L973.1,558.3 L973.4,562.4 L973.7,566.8 L974.0,570.7 L974.3,570.1 L974.6,571.7 L974.9,579.5 L975.2,586.0 L975.5,593.0 L975.7,599.3 L975.8,597.1 L976.1,591.7 L976.4,586.3 L976.7,582.7 L977.0,581.6 L977.3,578.4 L977.6,577.2 L977.9,577.8 L978.2,571.8 L978.5,565.3 L978.8,560.1 L978.8,560.1 L979.1,567.9 L979.4,573.0 L979.7,577.6 L980.0,583.0 L980.3,584.4 L980.6,586.4 L980.9,590.6 L981.2,589.5 L981.5,590.0 L981.8,598.4 L982.1,604.3 L982.4,609.4 L982.6,614.3 L982.7,610.5 L983.0,600.0 L983.3,590.3 L983.6,585.6 L983.9,584.1 L984.2,577.6 L984.5,573.3 L984.8,573.4 L985.1,565.9 L985.4,554.9 L985.7,544.3 L985.7,544.3 L986.0,553.1 L986.3,559.6 L986.6,569.0 L986.9,574.4 L987.2,572.4 L987.5,574.6 L987.8,580.6 L988.1,582.1 L988.4,585.0 L988.7,593.1 L989.0,599.8 L989.3,609.0 L989.3,609.0 L989.6,603.1 L989.9,597.0 L990.2,588.1 L990.5,587.7 L990.8,587.2 L991.1,583.5 L991.4,582.8 L991.7,580.6 L992.0,575.2 L992.3,572.2 L992.6,566.7 L992.9,559.1 L992.9,559.1 L993.2,566.8 L993.5,575.0 L993.8,578.2 L994.1,578.7 L994.4,581.8 L994.7,584.9 L995.0,591.5 L995.3,600.0 L995.3,600.0 L995.6,595.7 L995.9,590.3 L996.2,588.8 L996.5,587.4 L996.8,583.0 L997.1,582.3 L997.4,582.4 L997.7,580.6 L998.0,579.5 L998.3,578.0 L998.6,573.1 L998.9,569.9 L999.2,566.0 L999.3,564.4" fill="none" stroke="#808080" stroke-width="2.6" stroke-linejoin="round"/>
<path d="M143.9,580.4 L145.8,587.2 L148.0,591.0 L150.8,592.9 L155.1,588.6 L159.3,586.2 L162.0,588.5 L165.1,590.7 L170.1,583.6 L173.6,588.6 L177.9,582.9 L181.2,586.2 L184.1,581.9 L188.4,585.7 L193.7,579.0 L196.1,581.4 L201.5,572.2 L205.1,570.7 L208.7,563.2 L210.4,564.4 L214.4,560.5 L219.4,563.0 L222.3,562.0 L225.1,563.4 L228.7,560.5 L233.3,558.7 L238.0,560.0 L241.6,563.0 L243.6,565.8 L246.4,567.2 L250.0,572.2 L252.6,571.5 L255.7,575.4 L259.3,571.1 L262.6,575.1 L266.0,570.5 L269.3,573.7 L272.2,568.7 L275.7,572.5 L278.9,569.7 L282.9,572.5 L286.5,569.7 L289.3,570.8 L292.6,566.8 L296.5,569.4 L300.0,571.5 L305.0,570.8 L310.8,572.0 L314.4,575.8 L317.9,574.4 L321.2,578.0 L324.6,575.8 L328.7,578.7 L333.7,580.8 L338.7,582.5 L341.2,580.1 L345.1,584.0 L348.0,585.1 L350.8,587.7 L353.0,586.5 L357.3,588.2 L363.0,588.7 L370.1,590.4 L374.4,591.9 L378.7,594.6 L383.0,593.0 L388.6,592.2 L393.6,593.9 L397.9,591.7 L402.9,592.9 L408.6,590.7 L412.9,591.0 L417.9,589.0 L429.3,588.8 L435.0,585.4 L439.3,587.0 L443.6,583.8 L448.6,584.9 L455.8,581.1 L459.4,582.3 L465.8,580.1 L471.5,579.0 L476.5,583.5 L481.5,582.0 L485.8,584.0 L489.4,582.2 L493.0,583.7 L495.1,583.0 L498.7,585.1 L502.3,583.7 L506.6,584.8 L510.1,585.8 L513.7,583.7 L518.0,583.4 L521.5,582.6 L525.7,583.4 L534.3,582.5 L537.9,584.4 L541.4,581.5 L544.3,583.7 L547.2,580.8 L550.7,583.0 L554.3,584.4 L557.5,587.2 L560.0,586.2 L564.3,588.2 L568.6,588.0 L573.2,585.8 L576.9,587.2 L581.5,585.4 L584.3,585.1 L590.1,583.0 L594.4,578.7 L600.1,574.4 L604.4,571.9 L607.9,571.5 L610.4,570.4 L614.4,573.2 L618.7,572.9 L625.8,574.1 L630.1,573.7 L634.1,573.7 L638.0,576.5 L644.4,579.1 L648.7,578.7 L652.3,579.7 L655.8,578.7 L662.2,578.2 L667.9,579.1 L671.4,583.4 L673.6,582.0 L677.2,584.4 L680.7,581.1 L684.3,583.0 L687.9,580.5 L690.8,582.0 L693.9,579.7 L697.6,582.2 L701.5,580.1 L705.1,581.5 L710.1,580.5 L713.6,578.0 L716.5,579.4 L720.1,576.8 L723.6,579.7 L727.2,577.7 L730.1,579.4 L732.9,577.7 L737.2,578.7 L740.1,578.0 L742.9,579.4 L748.7,575.8 L753.0,576.8 L756.5,575.4 L760.1,577.2 L763.7,574.8 L768.0,576.2 L770.8,574.8 L775.1,578.0 L780.1,579.0 L783.7,576.5 L788.0,577.2 L793.0,579.4 L796.6,577.2 L797.9,579.4 L801.4,578.7 L805.7,582.0 L809.3,580.5 L812.9,582.0 L817.9,580.5 L825.0,579.7 L833.6,579.0 L837.6,580.1 L842.2,577.7 L847.2,575.4 L853.6,574.8 L859.4,573.7 L862.2,575.1 L865.8,574.4 L869.4,576.1 L872.9,573.4 L876.8,575.1 L879.7,572.5 L882.9,576.1 L886.5,572.5 L890.1,575.4 L893.7,572.2 L896.5,573.4 L900.8,570.1 L905.8,567.9 L909.4,568.2 L912.3,566.2 L915.8,569.4 L919.1,566.8 L922.3,568.7 L925.1,566.1 L928.7,571.5 L932.3,568.7 L935.9,571.9 L937.5,568.9 L939.9,570.5 L942.8,573.9 L945.7,571.8 L949.2,575.4 L952.1,574.8 L955.7,578.0 L958.8,575.4 L962.1,578.2 L967.1,579.1 L972.1,577.0 L977.8,577.2 L982.1,579.7 L985.7,579.4 L990.7,580.4 L995.7,581.1 L999.0,580.1" fill="none" stroke="#ff0000" stroke-width="2.1" stroke-linejoin="round"/>
</g>
<path d="M102.1,372.0 H999.05 M102.1,677.9 H999.05 M102.1,372.0 V677.9 M999.05,372.0 V677.9" fill="none" stroke="#2e2e2e" stroke-width="1.45" stroke-linecap="square"/>
<line x1="102.1" y1="431.0" x2="106.0" y2="431.0" stroke="#000" stroke-width="1.7"/>
<text class="e" x="98.8" y="440.7">4.8</text>
<line x1="102.1" y1="490.2" x2="106.0" y2="490.2" stroke="#000" stroke-width="1.7"/>
<text class="e" x="98.8" y="499.9">2.7</text>
<line x1="102.1" y1="549.5" x2="106.0" y2="549.5" stroke="#000" stroke-width="1.7"/>
<text class="e" x="98.8" y="559.2">0.6</text>
<line x1="102.1" y1="608.7" x2="106.0" y2="608.7" stroke="#000" stroke-width="1.7"/>
<text class="e" x="98.8" y="618.4">−1.5</text>
<line x1="102.1" y1="668.0" x2="106.0" y2="668.0" stroke="#000" stroke-width="1.7"/>
<text class="e" x="98.8" y="677.7">−3.6</text>
<line x1="102.1" y1="677.9" x2="102.1" y2="674.0" stroke="#000" stroke-width="1.7"/>
<text class="c" x="102.1" y="702.6">0</text>
<line x1="207.6" y1="677.9" x2="207.6" y2="674.0" stroke="#000" stroke-width="1.7"/>
<text class="c" x="207.6" y="702.6">1</text>
<line x1="313.1" y1="677.9" x2="313.1" y2="674.0" stroke="#000" stroke-width="1.7"/>
<text class="c" x="313.1" y="702.6">2</text>
<line x1="418.6" y1="677.9" x2="418.6" y2="674.0" stroke="#000" stroke-width="1.7"/>
<text class="c" x="418.6" y="702.6">3</text>
<line x1="524.1" y1="677.9" x2="524.1" y2="674.0" stroke="#000" stroke-width="1.7"/>
<text class="c" x="524.1" y="702.6">4</text>
<line x1="629.5" y1="677.9" x2="629.5" y2="674.0" stroke="#000" stroke-width="1.7"/>
<text class="c" x="629.5" y="702.6">5</text>
<line x1="735.0" y1="677.9" x2="735.0" y2="674.0" stroke="#000" stroke-width="1.7"/>
<text class="c" x="735.0" y="702.6">6</text>
<line x1="840.5" y1="677.9" x2="840.5" y2="674.0" stroke="#000" stroke-width="1.7"/>
<text class="c" x="840.5" y="702.6">7</text>
<line x1="946.0" y1="677.9" x2="946.0" y2="674.0" stroke="#000" stroke-width="1.7"/>
<text class="c" x="946.0" y="702.6">8</text>
<text class="c" x="551.1" y="730.5">time [ps]</text>
<text class="c" transform="translate(22.4,523.6) rotate(-90)">Force [kJ/(pm*mol)]</text>
<text x="860.9" y="481.2">190 pm</text>
</g>
</svg></body></html>
